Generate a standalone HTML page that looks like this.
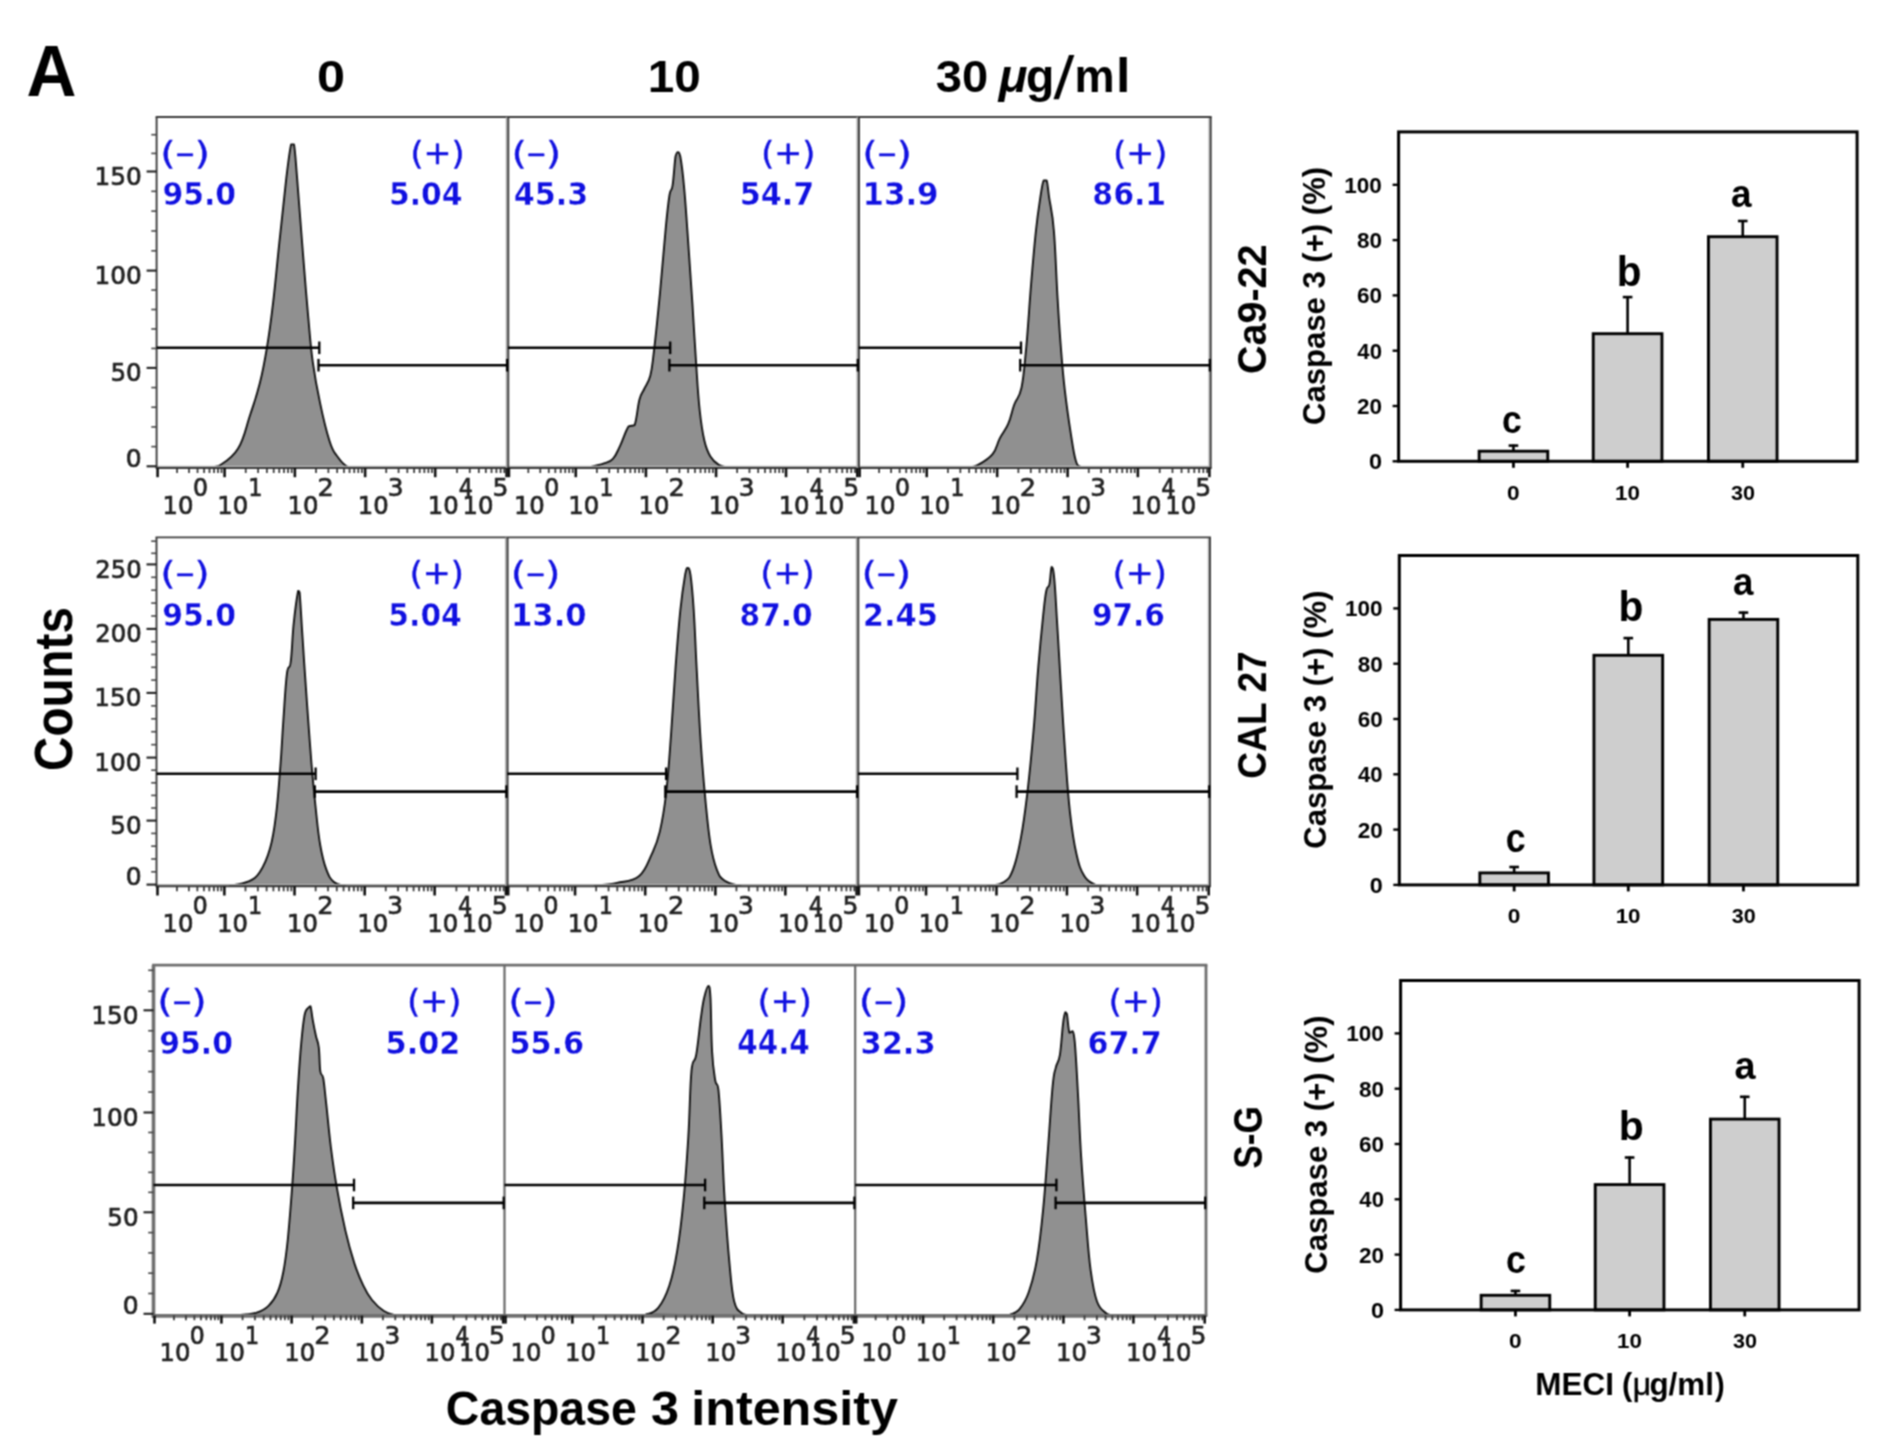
<!DOCTYPE html>
<html><head><meta charset="utf-8"><title>Figure A</title>
<style>html,body{margin:0;padding:0;background:#fff}svg{display:block}</style></head>
<body>
<svg width="1894" height="1454" viewBox="0 0 1894 1454">
<defs><filter id="soft" x="0" y="0" width="1894" height="1454" filterUnits="userSpaceOnUse" color-interpolation-filters="sRGB"><feConvolveMatrix order="3" kernelMatrix="1 2 1 2 4 2 1 2 1" divisor="16" edgeMode="duplicate" preserveAlpha="true"/></filter></defs>
<rect width="1894" height="1454" fill="#fff"/>
<g filter="url(#soft)">
<rect width="1894" height="1454" fill="#fff"/>
<path d="M208.1,467.8 C210.2,467.4 212.9,467.8 218.9,465.9 C224.9,462.0 231.9,458.7 238.1,448.5 C244.4,438.3 245.8,427.7 250.2,414.7 C254.5,401.7 256.4,396.9 259.8,383.3 C263.2,369.8 264.4,363.1 267.0,347.1 C269.7,331.2 270.6,324.0 273.0,303.7 C275.4,283.4 276.4,270.9 279.0,245.8 C281.7,220.7 283.9,198.5 286.3,178.2 C288.7,158.0 289.5,151.2 291.1,144.4 C292.6,144.4 292.8,144.4 294.0,144.4 C295.2,151.2 295.3,156.0 297.1,178.2 C298.9,200.4 301.0,228.4 303.1,255.4 C305.3,282.5 306.0,292.1 307.9,313.4 C309.9,334.6 310.3,343.8 312.7,361.6 C315.2,379.5 316.6,386.7 320.0,402.6 C323.3,418.6 326.2,430.6 329.6,441.3 C333.0,451.9 333.0,450.5 336.8,455.7 C340.7,460.9 342.6,464.9 348.8,467.3 C355.1,467.8 364.2,467.7 368.1,467.8Z" fill="#909090" stroke="#111" stroke-width="1.9" stroke-linejoin="round"/>
<path d="M588.9,467.3 C591.8,466.6 598.5,465.4 603.3,463.7 C608.1,462.0 609.6,462.5 612.9,458.9 C616.3,455.3 617.0,452.1 620.2,445.6 C623.3,439.1 625.7,430.5 628.6,426.4 C631.5,425.2 632.4,426.4 634.6,425.2 C636.8,419.8 637.5,407.1 639.4,399.8 C641.3,392.6 642.1,393.8 644.2,389.0 C646.4,384.2 648.3,383.2 650.3,375.8 C652.2,368.3 651.9,368.0 653.9,351.7 C655.8,335.3 657.5,318.9 659.9,293.8 C662.3,268.8 664.0,246.1 665.9,226.4 C667.8,206.6 668.2,203.2 669.5,195.0 C670.9,186.8 671.4,193.1 672.6,185.4 C673.8,177.7 674.5,163.1 675.5,156.5 C676.6,152.1 677.0,152.1 677.9,152.1 C678.9,152.1 679.1,152.1 680.3,156.5 C681.5,163.1 682.5,170.0 683.9,185.4 C685.4,200.8 685.9,210.0 687.6,233.6 C689.2,257.2 690.7,277.9 692.4,303.5 C694.1,329.0 694.5,340.1 696.0,361.3 C697.4,382.5 697.9,393.6 699.6,409.5 C701.3,425.4 702.2,431.4 704.4,440.8 C706.6,450.2 707.5,451.7 710.4,456.5 C713.3,461.3 715.2,462.6 718.8,464.9 C722.5,467.2 726.5,467.2 728.5,467.8Z" fill="#909090" stroke="#111" stroke-width="1.9" stroke-linejoin="round"/>
<path d="M968.5,467.8 C970.4,467.2 973.3,467.7 978.1,464.9 C982.9,462.2 988.2,459.4 992.6,454.1 C996.9,448.8 996.7,444.4 999.8,438.4 C1002.9,432.4 1005.3,430.7 1008.2,423.9 C1011.1,417.2 1011.6,411.9 1014.2,404.7 C1016.9,397.4 1019.0,399.4 1021.5,387.8 C1023.9,376.2 1024.3,367.5 1026.3,346.8 C1028.2,326.1 1029.2,307.3 1031.1,284.2 C1033.0,261.0 1034.0,249.0 1035.9,231.1 C1037.8,213.3 1039.2,205.1 1040.7,195.0 C1042.3,184.9 1042.4,183.4 1043.6,180.5 C1044.8,180.5 1045.6,180.5 1046.7,180.5 C1047.8,183.9 1047.7,187.3 1049.1,197.4 C1050.6,207.5 1052.3,210.9 1053.9,231.1 C1055.6,251.4 1056.1,274.5 1057.6,298.6 C1059.0,322.7 1059.7,333.3 1061.2,351.6 C1062.6,370.0 1062.9,373.8 1064.8,390.2 C1066.7,406.6 1068.6,419.6 1070.8,433.6 C1073.0,447.6 1073.7,453.4 1075.6,460.1 C1077.5,466.7 1077.8,465.3 1080.4,466.8 C1083.1,467.8 1087.2,467.6 1088.8,467.8Z" fill="#909090" stroke="#111" stroke-width="1.9" stroke-linejoin="round"/>
<line x1="156.60" y1="466.50" x2="1210.70" y2="466.50" stroke="#b4b4b4" stroke-width="1.6" stroke-linecap="butt"/>
<line x1="1209.10" y1="117.00" x2="1209.10" y2="468.00" stroke="#b4b4b4" stroke-width="1.4" stroke-linecap="butt"/>
<line x1="155.65" y1="117.00" x2="1211.65" y2="117.00" stroke="#3c3c3c" stroke-width="1.9" stroke-linecap="butt"/>
<line x1="155.65" y1="468.00" x2="1211.65" y2="468.00" stroke="#3c3c3c" stroke-width="1.9" stroke-linecap="butt"/>
<line x1="156.60" y1="117.00" x2="156.60" y2="468.00" stroke="#3c3c3c" stroke-width="1.9" stroke-linecap="butt"/>
<line x1="1210.70" y1="117.00" x2="1210.70" y2="468.00" stroke="#3c3c3c" stroke-width="1.9" stroke-linecap="butt"/>
<line x1="506.60" y1="117.00" x2="506.60" y2="468.00" stroke="#a8a8a8" stroke-width="1.6" stroke-linecap="butt"/>
<line x1="508.30" y1="117.00" x2="508.30" y2="468.00" stroke="#3c3c3c" stroke-width="1.9" stroke-linecap="butt"/>
<line x1="857.30" y1="117.00" x2="857.30" y2="468.00" stroke="#a8a8a8" stroke-width="1.6" stroke-linecap="butt"/>
<line x1="859.00" y1="117.00" x2="859.00" y2="468.00" stroke="#3c3c3c" stroke-width="1.9" stroke-linecap="butt"/>
<line x1="156.60" y1="347.80" x2="319.30" y2="347.80" stroke="#000" stroke-width="2.6" stroke-linecap="butt"/>
<line x1="319.30" y1="341.50" x2="319.30" y2="354.10" stroke="#000" stroke-width="2.3" stroke-linecap="butt"/>
<line x1="318.50" y1="365.20" x2="507.90" y2="365.20" stroke="#000" stroke-width="2.6" stroke-linecap="butt"/>
<line x1="318.50" y1="358.90" x2="318.50" y2="371.50" stroke="#000" stroke-width="2.3" stroke-linecap="butt"/>
<line x1="507.10" y1="358.90" x2="507.10" y2="371.50" stroke="#000" stroke-width="2.3" stroke-linecap="butt"/>
<line x1="507.90" y1="347.80" x2="670.20" y2="347.80" stroke="#000" stroke-width="2.6" stroke-linecap="butt"/>
<line x1="670.20" y1="341.50" x2="670.20" y2="354.10" stroke="#000" stroke-width="2.3" stroke-linecap="butt"/>
<line x1="669.40" y1="365.20" x2="858.60" y2="365.20" stroke="#000" stroke-width="2.6" stroke-linecap="butt"/>
<line x1="669.40" y1="358.90" x2="669.40" y2="371.50" stroke="#000" stroke-width="2.3" stroke-linecap="butt"/>
<line x1="857.80" y1="358.90" x2="857.80" y2="371.50" stroke="#000" stroke-width="2.3" stroke-linecap="butt"/>
<line x1="858.60" y1="347.80" x2="1021.00" y2="347.80" stroke="#000" stroke-width="2.6" stroke-linecap="butt"/>
<line x1="1021.00" y1="341.50" x2="1021.00" y2="354.10" stroke="#000" stroke-width="2.3" stroke-linecap="butt"/>
<line x1="1020.20" y1="365.20" x2="1210.70" y2="365.20" stroke="#000" stroke-width="2.6" stroke-linecap="butt"/>
<line x1="1020.20" y1="358.90" x2="1020.20" y2="371.50" stroke="#000" stroke-width="2.3" stroke-linecap="butt"/>
<line x1="1209.90" y1="358.90" x2="1209.90" y2="371.50" stroke="#000" stroke-width="2.3" stroke-linecap="butt"/>
<line x1="146.60" y1="466.30" x2="156.60" y2="466.30" stroke="#222" stroke-width="2.1" stroke-linecap="butt"/>
<line x1="146.60" y1="367.90" x2="156.60" y2="367.90" stroke="#222" stroke-width="2.1" stroke-linecap="butt"/>
<line x1="146.60" y1="270.60" x2="156.60" y2="270.60" stroke="#222" stroke-width="2.1" stroke-linecap="butt"/>
<line x1="146.60" y1="171.50" x2="156.60" y2="171.50" stroke="#222" stroke-width="2.1" stroke-linecap="butt"/>
<line x1="151.30" y1="446.62" x2="156.60" y2="446.62" stroke="#444" stroke-width="1.6" stroke-linecap="butt"/>
<line x1="151.30" y1="426.94" x2="156.60" y2="426.94" stroke="#444" stroke-width="1.6" stroke-linecap="butt"/>
<line x1="151.30" y1="407.26" x2="156.60" y2="407.26" stroke="#444" stroke-width="1.6" stroke-linecap="butt"/>
<line x1="151.30" y1="387.58" x2="156.60" y2="387.58" stroke="#444" stroke-width="1.6" stroke-linecap="butt"/>
<line x1="151.30" y1="348.44" x2="156.60" y2="348.44" stroke="#444" stroke-width="1.6" stroke-linecap="butt"/>
<line x1="151.30" y1="328.98" x2="156.60" y2="328.98" stroke="#444" stroke-width="1.6" stroke-linecap="butt"/>
<line x1="151.30" y1="309.52" x2="156.60" y2="309.52" stroke="#444" stroke-width="1.6" stroke-linecap="butt"/>
<line x1="151.30" y1="290.06" x2="156.60" y2="290.06" stroke="#444" stroke-width="1.6" stroke-linecap="butt"/>
<line x1="151.30" y1="250.78" x2="156.60" y2="250.78" stroke="#444" stroke-width="1.6" stroke-linecap="butt"/>
<line x1="151.30" y1="230.96" x2="156.60" y2="230.96" stroke="#444" stroke-width="1.6" stroke-linecap="butt"/>
<line x1="151.30" y1="211.14" x2="156.60" y2="211.14" stroke="#444" stroke-width="1.6" stroke-linecap="butt"/>
<line x1="151.30" y1="191.32" x2="156.60" y2="191.32" stroke="#444" stroke-width="1.6" stroke-linecap="butt"/>
<line x1="151.30" y1="153.40" x2="156.60" y2="153.40" stroke="#444" stroke-width="1.6" stroke-linecap="butt"/>
<line x1="151.30" y1="134.70" x2="156.60" y2="134.70" stroke="#444" stroke-width="1.6" stroke-linecap="butt"/>
<text transform="translate(125.85,466.80) scale(1.0182,1.0000)" font-family='"DejaVu Sans", sans-serif' font-weight="normal" stroke="#222" stroke-width="0.694" stroke-linejoin="round" font-size="24.5" fill="#222">0</text>
<text transform="translate(110.42,381.20) scale(1.0018,1.0000)" font-family='"DejaVu Sans", sans-serif' font-weight="normal" stroke="#222" stroke-width="0.699" stroke-linejoin="round" font-size="24.5" fill="#222">50</text>
<text transform="translate(94.44,283.90) scale(1.0118,1.0000)" font-family='"DejaVu Sans", sans-serif' font-weight="normal" stroke="#222" stroke-width="0.696" stroke-linejoin="round" font-size="24.5" fill="#222">100</text>
<text transform="translate(94.44,184.80) scale(1.0118,1.0000)" font-family='"DejaVu Sans", sans-serif' font-weight="normal" stroke="#222" stroke-width="0.696" stroke-linejoin="round" font-size="24.5" fill="#222">150</text>
<line x1="157.60" y1="468.00" x2="157.60" y2="477.20" stroke="#111" stroke-width="2.6" stroke-linecap="butt"/>
<line x1="177.06" y1="468.00" x2="177.06" y2="473.00" stroke="#333" stroke-width="1.7" stroke-linecap="butt"/>
<line x1="189.03" y1="468.00" x2="189.03" y2="473.00" stroke="#333" stroke-width="1.7" stroke-linecap="butt"/>
<line x1="197.53" y1="468.00" x2="197.53" y2="473.00" stroke="#333" stroke-width="1.7" stroke-linecap="butt"/>
<line x1="204.11" y1="468.00" x2="204.11" y2="473.00" stroke="#333" stroke-width="1.7" stroke-linecap="butt"/>
<line x1="209.50" y1="468.00" x2="209.50" y2="473.00" stroke="#333" stroke-width="1.7" stroke-linecap="butt"/>
<line x1="214.05" y1="468.00" x2="214.05" y2="473.00" stroke="#333" stroke-width="1.7" stroke-linecap="butt"/>
<line x1="217.99" y1="468.00" x2="217.99" y2="473.00" stroke="#333" stroke-width="1.7" stroke-linecap="butt"/>
<line x1="221.47" y1="468.00" x2="221.47" y2="473.00" stroke="#333" stroke-width="1.7" stroke-linecap="butt"/>
<line x1="224.58" y1="468.00" x2="224.58" y2="477.20" stroke="#111" stroke-width="2.6" stroke-linecap="butt"/>
<line x1="245.73" y1="468.00" x2="245.73" y2="473.00" stroke="#333" stroke-width="1.7" stroke-linecap="butt"/>
<line x1="258.11" y1="468.00" x2="258.11" y2="473.00" stroke="#333" stroke-width="1.7" stroke-linecap="butt"/>
<line x1="266.89" y1="468.00" x2="266.89" y2="473.00" stroke="#333" stroke-width="1.7" stroke-linecap="butt"/>
<line x1="273.70" y1="468.00" x2="273.70" y2="473.00" stroke="#333" stroke-width="1.7" stroke-linecap="butt"/>
<line x1="279.27" y1="468.00" x2="279.27" y2="473.00" stroke="#333" stroke-width="1.7" stroke-linecap="butt"/>
<line x1="283.97" y1="468.00" x2="283.97" y2="473.00" stroke="#333" stroke-width="1.7" stroke-linecap="butt"/>
<line x1="288.05" y1="468.00" x2="288.05" y2="473.00" stroke="#333" stroke-width="1.7" stroke-linecap="butt"/>
<line x1="291.64" y1="468.00" x2="291.64" y2="473.00" stroke="#333" stroke-width="1.7" stroke-linecap="butt"/>
<line x1="294.86" y1="468.00" x2="294.86" y2="477.20" stroke="#111" stroke-width="2.6" stroke-linecap="butt"/>
<line x1="316.01" y1="468.00" x2="316.01" y2="473.00" stroke="#333" stroke-width="1.7" stroke-linecap="butt"/>
<line x1="328.39" y1="468.00" x2="328.39" y2="473.00" stroke="#333" stroke-width="1.7" stroke-linecap="butt"/>
<line x1="337.17" y1="468.00" x2="337.17" y2="473.00" stroke="#333" stroke-width="1.7" stroke-linecap="butt"/>
<line x1="343.98" y1="468.00" x2="343.98" y2="473.00" stroke="#333" stroke-width="1.7" stroke-linecap="butt"/>
<line x1="349.55" y1="468.00" x2="349.55" y2="473.00" stroke="#333" stroke-width="1.7" stroke-linecap="butt"/>
<line x1="354.25" y1="468.00" x2="354.25" y2="473.00" stroke="#333" stroke-width="1.7" stroke-linecap="butt"/>
<line x1="358.33" y1="468.00" x2="358.33" y2="473.00" stroke="#333" stroke-width="1.7" stroke-linecap="butt"/>
<line x1="361.92" y1="468.00" x2="361.92" y2="473.00" stroke="#333" stroke-width="1.7" stroke-linecap="butt"/>
<line x1="365.14" y1="468.00" x2="365.14" y2="477.20" stroke="#111" stroke-width="2.6" stroke-linecap="butt"/>
<line x1="386.23" y1="468.00" x2="386.23" y2="473.00" stroke="#333" stroke-width="1.7" stroke-linecap="butt"/>
<line x1="398.57" y1="468.00" x2="398.57" y2="473.00" stroke="#333" stroke-width="1.7" stroke-linecap="butt"/>
<line x1="407.33" y1="468.00" x2="407.33" y2="473.00" stroke="#333" stroke-width="1.7" stroke-linecap="butt"/>
<line x1="414.12" y1="468.00" x2="414.12" y2="473.00" stroke="#333" stroke-width="1.7" stroke-linecap="butt"/>
<line x1="419.67" y1="468.00" x2="419.67" y2="473.00" stroke="#333" stroke-width="1.7" stroke-linecap="butt"/>
<line x1="424.36" y1="468.00" x2="424.36" y2="473.00" stroke="#333" stroke-width="1.7" stroke-linecap="butt"/>
<line x1="428.43" y1="468.00" x2="428.43" y2="473.00" stroke="#333" stroke-width="1.7" stroke-linecap="butt"/>
<line x1="432.01" y1="468.00" x2="432.01" y2="473.00" stroke="#333" stroke-width="1.7" stroke-linecap="butt"/>
<line x1="435.22" y1="468.00" x2="435.22" y2="477.20" stroke="#111" stroke-width="2.6" stroke-linecap="butt"/>
<line x1="457.01" y1="468.00" x2="457.01" y2="473.00" stroke="#333" stroke-width="1.7" stroke-linecap="butt"/>
<line x1="469.75" y1="468.00" x2="469.75" y2="473.00" stroke="#333" stroke-width="1.7" stroke-linecap="butt"/>
<line x1="478.80" y1="468.00" x2="478.80" y2="473.00" stroke="#333" stroke-width="1.7" stroke-linecap="butt"/>
<line x1="485.81" y1="468.00" x2="485.81" y2="473.00" stroke="#333" stroke-width="1.7" stroke-linecap="butt"/>
<line x1="491.54" y1="468.00" x2="491.54" y2="473.00" stroke="#333" stroke-width="1.7" stroke-linecap="butt"/>
<line x1="496.39" y1="468.00" x2="496.39" y2="473.00" stroke="#333" stroke-width="1.7" stroke-linecap="butt"/>
<line x1="500.59" y1="468.00" x2="500.59" y2="473.00" stroke="#333" stroke-width="1.7" stroke-linecap="butt"/>
<line x1="504.29" y1="468.00" x2="504.29" y2="473.00" stroke="#333" stroke-width="1.7" stroke-linecap="butt"/>
<line x1="506.60" y1="468.00" x2="506.60" y2="477.20" stroke="#111" stroke-width="2.6" stroke-linecap="butt"/>
<text transform="translate(162.59,513.70) scale(0.9926,1.0000)" font-family='"DejaVu Sans", sans-serif' font-weight="normal" stroke="#222" stroke-width="0.703" stroke-linejoin="round" font-size="24.5" fill="#222">10</text>
<text transform="translate(192.94,496.00) scale(0.9616,1.0000)" font-family='"DejaVu Sans", sans-serif' font-weight="normal" stroke="#222" stroke-width="0.714" stroke-linejoin="round" font-size="24.5" fill="#222">0</text>
<text transform="translate(217.17,513.70) scale(0.9926,1.0000)" font-family='"DejaVu Sans", sans-serif' font-weight="normal" stroke="#222" stroke-width="0.703" stroke-linejoin="round" font-size="24.5" fill="#222">10</text>
<text transform="translate(248.18,496.00) scale(0.9116,1.0000)" font-family='"DejaVu Sans", sans-serif' font-weight="normal" stroke="#222" stroke-width="0.733" stroke-linejoin="round" font-size="24.5" fill="#222">1</text>
<text transform="translate(287.45,513.70) scale(0.9926,1.0000)" font-family='"DejaVu Sans", sans-serif' font-weight="normal" stroke="#222" stroke-width="0.703" stroke-linejoin="round" font-size="24.5" fill="#222">10</text>
<text transform="translate(317.53,496.00) scale(1.0462,1.0000)" font-family='"DejaVu Sans", sans-serif' font-weight="normal" stroke="#222" stroke-width="0.684" stroke-linejoin="round" font-size="24.5" fill="#222">2</text>
<text transform="translate(357.73,513.70) scale(0.9926,1.0000)" font-family='"DejaVu Sans", sans-serif' font-weight="normal" stroke="#222" stroke-width="0.703" stroke-linejoin="round" font-size="24.5" fill="#222">10</text>
<text transform="translate(387.74,496.00) scale(1.0128,1.0000)" font-family='"DejaVu Sans", sans-serif' font-weight="normal" stroke="#222" stroke-width="0.696" stroke-linejoin="round" font-size="24.5" fill="#222">3</text>
<text transform="translate(427.81,513.70) scale(0.9926,1.0000)" font-family='"DejaVu Sans", sans-serif' font-weight="normal" stroke="#222" stroke-width="0.703" stroke-linejoin="round" font-size="24.5" fill="#222">10</text>
<text transform="translate(458.70,496.00) scale(0.9067,1.0000)" font-family='"DejaVu Sans", sans-serif' font-weight="normal" stroke="#222" stroke-width="0.735" stroke-linejoin="round" font-size="24.5" fill="#222">4</text>
<text transform="translate(462.49,513.70) scale(0.9926,1.0000)" font-family='"DejaVu Sans", sans-serif' font-weight="normal" stroke="#222" stroke-width="0.703" stroke-linejoin="round" font-size="24.5" fill="#222">10</text>
<text transform="translate(492.48,496.00) scale(1.0237,1.0000)" font-family='"DejaVu Sans", sans-serif' font-weight="normal" stroke="#222" stroke-width="0.692" stroke-linejoin="round" font-size="24.5" fill="#222">5</text>
<line x1="508.90" y1="468.00" x2="508.90" y2="477.20" stroke="#111" stroke-width="2.6" stroke-linecap="butt"/>
<line x1="528.33" y1="468.00" x2="528.33" y2="473.00" stroke="#333" stroke-width="1.7" stroke-linecap="butt"/>
<line x1="540.28" y1="468.00" x2="540.28" y2="473.00" stroke="#333" stroke-width="1.7" stroke-linecap="butt"/>
<line x1="548.76" y1="468.00" x2="548.76" y2="473.00" stroke="#333" stroke-width="1.7" stroke-linecap="butt"/>
<line x1="555.33" y1="468.00" x2="555.33" y2="473.00" stroke="#333" stroke-width="1.7" stroke-linecap="butt"/>
<line x1="560.71" y1="468.00" x2="560.71" y2="473.00" stroke="#333" stroke-width="1.7" stroke-linecap="butt"/>
<line x1="565.25" y1="468.00" x2="565.25" y2="473.00" stroke="#333" stroke-width="1.7" stroke-linecap="butt"/>
<line x1="569.18" y1="468.00" x2="569.18" y2="473.00" stroke="#333" stroke-width="1.7" stroke-linecap="butt"/>
<line x1="572.66" y1="468.00" x2="572.66" y2="473.00" stroke="#333" stroke-width="1.7" stroke-linecap="butt"/>
<line x1="575.76" y1="468.00" x2="575.76" y2="477.20" stroke="#111" stroke-width="2.6" stroke-linecap="butt"/>
<line x1="596.88" y1="468.00" x2="596.88" y2="473.00" stroke="#333" stroke-width="1.7" stroke-linecap="butt"/>
<line x1="609.24" y1="468.00" x2="609.24" y2="473.00" stroke="#333" stroke-width="1.7" stroke-linecap="butt"/>
<line x1="618.00" y1="468.00" x2="618.00" y2="473.00" stroke="#333" stroke-width="1.7" stroke-linecap="butt"/>
<line x1="624.80" y1="468.00" x2="624.80" y2="473.00" stroke="#333" stroke-width="1.7" stroke-linecap="butt"/>
<line x1="630.36" y1="468.00" x2="630.36" y2="473.00" stroke="#333" stroke-width="1.7" stroke-linecap="butt"/>
<line x1="635.05" y1="468.00" x2="635.05" y2="473.00" stroke="#333" stroke-width="1.7" stroke-linecap="butt"/>
<line x1="639.12" y1="468.00" x2="639.12" y2="473.00" stroke="#333" stroke-width="1.7" stroke-linecap="butt"/>
<line x1="642.71" y1="468.00" x2="642.71" y2="473.00" stroke="#333" stroke-width="1.7" stroke-linecap="butt"/>
<line x1="645.92" y1="468.00" x2="645.92" y2="477.20" stroke="#111" stroke-width="2.6" stroke-linecap="butt"/>
<line x1="667.04" y1="468.00" x2="667.04" y2="473.00" stroke="#333" stroke-width="1.7" stroke-linecap="butt"/>
<line x1="679.40" y1="468.00" x2="679.40" y2="473.00" stroke="#333" stroke-width="1.7" stroke-linecap="butt"/>
<line x1="688.16" y1="468.00" x2="688.16" y2="473.00" stroke="#333" stroke-width="1.7" stroke-linecap="butt"/>
<line x1="694.96" y1="468.00" x2="694.96" y2="473.00" stroke="#333" stroke-width="1.7" stroke-linecap="butt"/>
<line x1="700.52" y1="468.00" x2="700.52" y2="473.00" stroke="#333" stroke-width="1.7" stroke-linecap="butt"/>
<line x1="705.21" y1="468.00" x2="705.21" y2="473.00" stroke="#333" stroke-width="1.7" stroke-linecap="butt"/>
<line x1="709.28" y1="468.00" x2="709.28" y2="473.00" stroke="#333" stroke-width="1.7" stroke-linecap="butt"/>
<line x1="712.87" y1="468.00" x2="712.87" y2="473.00" stroke="#333" stroke-width="1.7" stroke-linecap="butt"/>
<line x1="716.08" y1="468.00" x2="716.08" y2="477.20" stroke="#111" stroke-width="2.6" stroke-linecap="butt"/>
<line x1="737.14" y1="468.00" x2="737.14" y2="473.00" stroke="#333" stroke-width="1.7" stroke-linecap="butt"/>
<line x1="749.46" y1="468.00" x2="749.46" y2="473.00" stroke="#333" stroke-width="1.7" stroke-linecap="butt"/>
<line x1="758.20" y1="468.00" x2="758.20" y2="473.00" stroke="#333" stroke-width="1.7" stroke-linecap="butt"/>
<line x1="764.98" y1="468.00" x2="764.98" y2="473.00" stroke="#333" stroke-width="1.7" stroke-linecap="butt"/>
<line x1="770.52" y1="468.00" x2="770.52" y2="473.00" stroke="#333" stroke-width="1.7" stroke-linecap="butt"/>
<line x1="775.20" y1="468.00" x2="775.20" y2="473.00" stroke="#333" stroke-width="1.7" stroke-linecap="butt"/>
<line x1="779.26" y1="468.00" x2="779.26" y2="473.00" stroke="#333" stroke-width="1.7" stroke-linecap="butt"/>
<line x1="782.84" y1="468.00" x2="782.84" y2="473.00" stroke="#333" stroke-width="1.7" stroke-linecap="butt"/>
<line x1="786.04" y1="468.00" x2="786.04" y2="477.20" stroke="#111" stroke-width="2.6" stroke-linecap="butt"/>
<line x1="807.79" y1="468.00" x2="807.79" y2="473.00" stroke="#333" stroke-width="1.7" stroke-linecap="butt"/>
<line x1="820.52" y1="468.00" x2="820.52" y2="473.00" stroke="#333" stroke-width="1.7" stroke-linecap="butt"/>
<line x1="829.55" y1="468.00" x2="829.55" y2="473.00" stroke="#333" stroke-width="1.7" stroke-linecap="butt"/>
<line x1="836.55" y1="468.00" x2="836.55" y2="473.00" stroke="#333" stroke-width="1.7" stroke-linecap="butt"/>
<line x1="842.27" y1="468.00" x2="842.27" y2="473.00" stroke="#333" stroke-width="1.7" stroke-linecap="butt"/>
<line x1="847.11" y1="468.00" x2="847.11" y2="473.00" stroke="#333" stroke-width="1.7" stroke-linecap="butt"/>
<line x1="851.30" y1="468.00" x2="851.30" y2="473.00" stroke="#333" stroke-width="1.7" stroke-linecap="butt"/>
<line x1="854.99" y1="468.00" x2="854.99" y2="473.00" stroke="#333" stroke-width="1.7" stroke-linecap="butt"/>
<line x1="857.30" y1="468.00" x2="857.30" y2="477.20" stroke="#111" stroke-width="2.6" stroke-linecap="butt"/>
<text transform="translate(513.89,513.70) scale(0.9926,1.0000)" font-family='"DejaVu Sans", sans-serif' font-weight="normal" stroke="#222" stroke-width="0.703" stroke-linejoin="round" font-size="24.5" fill="#222">10</text>
<text transform="translate(544.24,496.00) scale(0.9616,1.0000)" font-family='"DejaVu Sans", sans-serif' font-weight="normal" stroke="#222" stroke-width="0.714" stroke-linejoin="round" font-size="24.5" fill="#222">0</text>
<text transform="translate(568.36,513.70) scale(0.9926,1.0000)" font-family='"DejaVu Sans", sans-serif' font-weight="normal" stroke="#222" stroke-width="0.703" stroke-linejoin="round" font-size="24.5" fill="#222">10</text>
<text transform="translate(599.37,496.00) scale(0.9116,1.0000)" font-family='"DejaVu Sans", sans-serif' font-weight="normal" stroke="#222" stroke-width="0.733" stroke-linejoin="round" font-size="24.5" fill="#222">1</text>
<text transform="translate(638.52,513.70) scale(0.9926,1.0000)" font-family='"DejaVu Sans", sans-serif' font-weight="normal" stroke="#222" stroke-width="0.703" stroke-linejoin="round" font-size="24.5" fill="#222">10</text>
<text transform="translate(668.59,496.00) scale(1.0462,1.0000)" font-family='"DejaVu Sans", sans-serif' font-weight="normal" stroke="#222" stroke-width="0.684" stroke-linejoin="round" font-size="24.5" fill="#222">2</text>
<text transform="translate(708.68,513.70) scale(0.9926,1.0000)" font-family='"DejaVu Sans", sans-serif' font-weight="normal" stroke="#222" stroke-width="0.703" stroke-linejoin="round" font-size="24.5" fill="#222">10</text>
<text transform="translate(738.68,496.00) scale(1.0128,1.0000)" font-family='"DejaVu Sans", sans-serif' font-weight="normal" stroke="#222" stroke-width="0.696" stroke-linejoin="round" font-size="24.5" fill="#222">3</text>
<text transform="translate(778.64,513.70) scale(0.9926,1.0000)" font-family='"DejaVu Sans", sans-serif' font-weight="normal" stroke="#222" stroke-width="0.703" stroke-linejoin="round" font-size="24.5" fill="#222">10</text>
<text transform="translate(809.52,496.00) scale(0.9067,1.0000)" font-family='"DejaVu Sans", sans-serif' font-weight="normal" stroke="#222" stroke-width="0.735" stroke-linejoin="round" font-size="24.5" fill="#222">4</text>
<text transform="translate(813.19,513.70) scale(0.9926,1.0000)" font-family='"DejaVu Sans", sans-serif' font-weight="normal" stroke="#222" stroke-width="0.703" stroke-linejoin="round" font-size="24.5" fill="#222">10</text>
<text transform="translate(843.18,496.00) scale(1.0237,1.0000)" font-family='"DejaVu Sans", sans-serif' font-weight="normal" stroke="#222" stroke-width="0.692" stroke-linejoin="round" font-size="24.5" fill="#222">5</text>
<line x1="859.60" y1="468.00" x2="859.60" y2="477.20" stroke="#111" stroke-width="2.6" stroke-linecap="butt"/>
<line x1="879.11" y1="468.00" x2="879.11" y2="473.00" stroke="#333" stroke-width="1.7" stroke-linecap="butt"/>
<line x1="891.11" y1="468.00" x2="891.11" y2="473.00" stroke="#333" stroke-width="1.7" stroke-linecap="butt"/>
<line x1="899.62" y1="468.00" x2="899.62" y2="473.00" stroke="#333" stroke-width="1.7" stroke-linecap="butt"/>
<line x1="906.22" y1="468.00" x2="906.22" y2="473.00" stroke="#333" stroke-width="1.7" stroke-linecap="butt"/>
<line x1="911.62" y1="468.00" x2="911.62" y2="473.00" stroke="#333" stroke-width="1.7" stroke-linecap="butt"/>
<line x1="916.18" y1="468.00" x2="916.18" y2="473.00" stroke="#333" stroke-width="1.7" stroke-linecap="butt"/>
<line x1="920.13" y1="468.00" x2="920.13" y2="473.00" stroke="#333" stroke-width="1.7" stroke-linecap="butt"/>
<line x1="923.61" y1="468.00" x2="923.61" y2="473.00" stroke="#333" stroke-width="1.7" stroke-linecap="butt"/>
<line x1="926.73" y1="468.00" x2="926.73" y2="477.20" stroke="#111" stroke-width="2.6" stroke-linecap="butt"/>
<line x1="947.94" y1="468.00" x2="947.94" y2="473.00" stroke="#333" stroke-width="1.7" stroke-linecap="butt"/>
<line x1="960.34" y1="468.00" x2="960.34" y2="473.00" stroke="#333" stroke-width="1.7" stroke-linecap="butt"/>
<line x1="969.14" y1="468.00" x2="969.14" y2="473.00" stroke="#333" stroke-width="1.7" stroke-linecap="butt"/>
<line x1="975.97" y1="468.00" x2="975.97" y2="473.00" stroke="#333" stroke-width="1.7" stroke-linecap="butt"/>
<line x1="981.55" y1="468.00" x2="981.55" y2="473.00" stroke="#333" stroke-width="1.7" stroke-linecap="butt"/>
<line x1="986.26" y1="468.00" x2="986.26" y2="473.00" stroke="#333" stroke-width="1.7" stroke-linecap="butt"/>
<line x1="990.35" y1="468.00" x2="990.35" y2="473.00" stroke="#333" stroke-width="1.7" stroke-linecap="butt"/>
<line x1="993.95" y1="468.00" x2="993.95" y2="473.00" stroke="#333" stroke-width="1.7" stroke-linecap="butt"/>
<line x1="997.17" y1="468.00" x2="997.17" y2="477.20" stroke="#111" stroke-width="2.6" stroke-linecap="butt"/>
<line x1="1018.38" y1="468.00" x2="1018.38" y2="473.00" stroke="#333" stroke-width="1.7" stroke-linecap="butt"/>
<line x1="1030.78" y1="468.00" x2="1030.78" y2="473.00" stroke="#333" stroke-width="1.7" stroke-linecap="butt"/>
<line x1="1039.58" y1="468.00" x2="1039.58" y2="473.00" stroke="#333" stroke-width="1.7" stroke-linecap="butt"/>
<line x1="1046.41" y1="468.00" x2="1046.41" y2="473.00" stroke="#333" stroke-width="1.7" stroke-linecap="butt"/>
<line x1="1051.99" y1="468.00" x2="1051.99" y2="473.00" stroke="#333" stroke-width="1.7" stroke-linecap="butt"/>
<line x1="1056.70" y1="468.00" x2="1056.70" y2="473.00" stroke="#333" stroke-width="1.7" stroke-linecap="butt"/>
<line x1="1060.79" y1="468.00" x2="1060.79" y2="473.00" stroke="#333" stroke-width="1.7" stroke-linecap="butt"/>
<line x1="1064.39" y1="468.00" x2="1064.39" y2="473.00" stroke="#333" stroke-width="1.7" stroke-linecap="butt"/>
<line x1="1067.61" y1="468.00" x2="1067.61" y2="477.20" stroke="#111" stroke-width="2.6" stroke-linecap="butt"/>
<line x1="1088.76" y1="468.00" x2="1088.76" y2="473.00" stroke="#333" stroke-width="1.7" stroke-linecap="butt"/>
<line x1="1101.13" y1="468.00" x2="1101.13" y2="473.00" stroke="#333" stroke-width="1.7" stroke-linecap="butt"/>
<line x1="1109.90" y1="468.00" x2="1109.90" y2="473.00" stroke="#333" stroke-width="1.7" stroke-linecap="butt"/>
<line x1="1116.71" y1="468.00" x2="1116.71" y2="473.00" stroke="#333" stroke-width="1.7" stroke-linecap="butt"/>
<line x1="1122.27" y1="468.00" x2="1122.27" y2="473.00" stroke="#333" stroke-width="1.7" stroke-linecap="butt"/>
<line x1="1126.97" y1="468.00" x2="1126.97" y2="473.00" stroke="#333" stroke-width="1.7" stroke-linecap="butt"/>
<line x1="1131.04" y1="468.00" x2="1131.04" y2="473.00" stroke="#333" stroke-width="1.7" stroke-linecap="butt"/>
<line x1="1134.64" y1="468.00" x2="1134.64" y2="473.00" stroke="#333" stroke-width="1.7" stroke-linecap="butt"/>
<line x1="1137.85" y1="468.00" x2="1137.85" y2="477.20" stroke="#111" stroke-width="2.6" stroke-linecap="butt"/>
<line x1="1159.69" y1="468.00" x2="1159.69" y2="473.00" stroke="#333" stroke-width="1.7" stroke-linecap="butt"/>
<line x1="1172.47" y1="468.00" x2="1172.47" y2="473.00" stroke="#333" stroke-width="1.7" stroke-linecap="butt"/>
<line x1="1181.53" y1="468.00" x2="1181.53" y2="473.00" stroke="#333" stroke-width="1.7" stroke-linecap="butt"/>
<line x1="1188.56" y1="468.00" x2="1188.56" y2="473.00" stroke="#333" stroke-width="1.7" stroke-linecap="butt"/>
<line x1="1194.30" y1="468.00" x2="1194.30" y2="473.00" stroke="#333" stroke-width="1.7" stroke-linecap="butt"/>
<line x1="1199.16" y1="468.00" x2="1199.16" y2="473.00" stroke="#333" stroke-width="1.7" stroke-linecap="butt"/>
<line x1="1203.37" y1="468.00" x2="1203.37" y2="473.00" stroke="#333" stroke-width="1.7" stroke-linecap="butt"/>
<line x1="1207.08" y1="468.00" x2="1207.08" y2="473.00" stroke="#333" stroke-width="1.7" stroke-linecap="butt"/>
<line x1="1209.40" y1="468.00" x2="1209.40" y2="477.20" stroke="#111" stroke-width="2.6" stroke-linecap="butt"/>
<text transform="translate(864.59,513.70) scale(0.9926,1.0000)" font-family='"DejaVu Sans", sans-serif' font-weight="normal" stroke="#222" stroke-width="0.703" stroke-linejoin="round" font-size="24.5" fill="#222">10</text>
<text transform="translate(894.94,496.00) scale(0.9616,1.0000)" font-family='"DejaVu Sans", sans-serif' font-weight="normal" stroke="#222" stroke-width="0.714" stroke-linejoin="round" font-size="24.5" fill="#222">0</text>
<text transform="translate(919.33,513.70) scale(0.9926,1.0000)" font-family='"DejaVu Sans", sans-serif' font-weight="normal" stroke="#222" stroke-width="0.703" stroke-linejoin="round" font-size="24.5" fill="#222">10</text>
<text transform="translate(950.34,496.00) scale(0.9116,1.0000)" font-family='"DejaVu Sans", sans-serif' font-weight="normal" stroke="#222" stroke-width="0.733" stroke-linejoin="round" font-size="24.5" fill="#222">1</text>
<text transform="translate(989.77,513.70) scale(0.9926,1.0000)" font-family='"DejaVu Sans", sans-serif' font-weight="normal" stroke="#222" stroke-width="0.703" stroke-linejoin="round" font-size="24.5" fill="#222">10</text>
<text transform="translate(1019.84,496.00) scale(1.0462,1.0000)" font-family='"DejaVu Sans", sans-serif' font-weight="normal" stroke="#222" stroke-width="0.684" stroke-linejoin="round" font-size="24.5" fill="#222">2</text>
<text transform="translate(1060.21,513.70) scale(0.9926,1.0000)" font-family='"DejaVu Sans", sans-serif' font-weight="normal" stroke="#222" stroke-width="0.703" stroke-linejoin="round" font-size="24.5" fill="#222">10</text>
<text transform="translate(1090.21,496.00) scale(1.0128,1.0000)" font-family='"DejaVu Sans", sans-serif' font-weight="normal" stroke="#222" stroke-width="0.696" stroke-linejoin="round" font-size="24.5" fill="#222">3</text>
<text transform="translate(1130.45,513.70) scale(0.9926,1.0000)" font-family='"DejaVu Sans", sans-serif' font-weight="normal" stroke="#222" stroke-width="0.703" stroke-linejoin="round" font-size="24.5" fill="#222">10</text>
<text transform="translate(1161.33,496.00) scale(0.9067,1.0000)" font-family='"DejaVu Sans", sans-serif' font-weight="normal" stroke="#222" stroke-width="0.735" stroke-linejoin="round" font-size="24.5" fill="#222">4</text>
<text transform="translate(1165.29,513.70) scale(0.9926,1.0000)" font-family='"DejaVu Sans", sans-serif' font-weight="normal" stroke="#222" stroke-width="0.703" stroke-linejoin="round" font-size="24.5" fill="#222">10</text>
<text transform="translate(1195.28,496.00) scale(1.0237,1.0000)" font-family='"DejaVu Sans", sans-serif' font-weight="normal" stroke="#222" stroke-width="0.692" stroke-linejoin="round" font-size="24.5" fill="#222">5</text>
<text transform="translate(160.50,163.59) scale(1.2000,0.9895)" font-family='"DejaVu Sans", sans-serif' font-weight="normal" stroke="#1010e0" stroke-width="0.459" stroke-linejoin="round" font-size="32" fill="#1010e0">(–)</text>
<text transform="translate(410.53,163.59) scale(1.0443,0.9895)" font-family='"DejaVu Sans", sans-serif' font-weight="normal" stroke="#1010e0" stroke-width="0.492" stroke-linejoin="round" font-size="32" fill="#1010e0">(+)</text>
<text transform="translate(162.39,205.31) scale(1.0060,0.9720)" font-family='"DejaVu Sans Condensed", "DejaVu Sans", sans-serif' font-weight="bold" stroke="#fff" stroke-width="0.405" stroke-linejoin="round" font-size="33" fill="#1010e0">95.0</text>
<text transform="translate(389.04,205.31) scale(1.0036,0.9720)" font-family='"DejaVu Sans Condensed", "DejaVu Sans", sans-serif' font-weight="bold" stroke="#fff" stroke-width="0.405" stroke-linejoin="round" font-size="33" fill="#1010e0">5.04</text>
<text transform="translate(511.80,163.59) scale(1.2000,0.9895)" font-family='"DejaVu Sans", sans-serif' font-weight="normal" stroke="#1010e0" stroke-width="0.459" stroke-linejoin="round" font-size="32" fill="#1010e0">(–)</text>
<text transform="translate(761.23,163.59) scale(1.0443,0.9895)" font-family='"DejaVu Sans", sans-serif' font-weight="normal" stroke="#1010e0" stroke-width="0.492" stroke-linejoin="round" font-size="32" fill="#1010e0">(+)</text>
<text transform="translate(513.80,205.31) scale(1.0169,0.9720)" font-family='"DejaVu Sans Condensed", "DejaVu Sans", sans-serif' font-weight="bold" stroke="#fff" stroke-width="0.402" stroke-linejoin="round" font-size="33" fill="#1010e0">45.3</text>
<text transform="translate(739.71,205.31) scale(1.0182,0.9868)" font-family='"DejaVu Sans Condensed", "DejaVu Sans", sans-serif' font-weight="bold" stroke="#fff" stroke-width="0.399" stroke-linejoin="round" font-size="33" fill="#1010e0">54.7</text>
<text transform="translate(862.50,163.59) scale(1.2000,0.9895)" font-family='"DejaVu Sans", sans-serif' font-weight="normal" stroke="#1010e0" stroke-width="0.459" stroke-linejoin="round" font-size="32" fill="#1010e0">(–)</text>
<text transform="translate(1113.33,163.59) scale(1.0443,0.9895)" font-family='"DejaVu Sans", sans-serif' font-weight="normal" stroke="#1010e0" stroke-width="0.492" stroke-linejoin="round" font-size="32" fill="#1010e0">(+)</text>
<text transform="translate(862.39,205.31) scale(1.0412,0.9720)" font-family='"DejaVu Sans Condensed", "DejaVu Sans", sans-serif' font-weight="bold" stroke="#fff" stroke-width="0.398" stroke-linejoin="round" font-size="33" fill="#1010e0">13.9</text>
<text transform="translate(1092.34,205.31) scale(1.0072,0.9720)" font-family='"DejaVu Sans Condensed", "DejaVu Sans", sans-serif' font-weight="bold" stroke="#fff" stroke-width="0.404" stroke-linejoin="round" font-size="33" fill="#1010e0">86.1</text>
<path d="M230.1,885.5 C233.7,884.7 241.9,884.3 247.9,881.7 C253.8,879.0 255.2,878.8 259.7,872.2 C264.1,865.6 266.8,859.8 270.0,848.5 C273.3,837.3 273.9,832.5 275.9,815.9 C278.0,799.4 278.9,784.6 280.4,765.6 C281.9,746.7 282.0,739.6 283.3,721.2 C284.6,702.9 285.4,685.7 286.9,673.9 C288.4,662.0 289.4,672.1 290.7,662.0 C292.1,651.9 292.2,637.7 293.7,623.5 C295.2,609.3 296.9,597.2 298.1,591.0 C299.3,591.0 298.7,591.0 299.6,592.4 C300.5,601.9 301.1,616.1 302.6,638.3 C304.0,660.5 305.2,678.6 307.0,703.5 C308.8,728.3 309.7,741.3 311.4,762.7 C313.2,784.0 314.1,793.4 315.9,810.0 C317.6,826.6 318.2,833.7 320.3,845.5 C322.4,857.4 323.5,862.0 326.2,869.2 C328.9,876.4 329.8,878.3 333.6,881.7 C337.4,885.0 343.1,885.2 345.4,886.1Z" fill="#909090" stroke="#111" stroke-width="1.9" stroke-linejoin="round"/>
<path d="M594.8,885.5 C599.3,885.0 608.2,884.8 617.0,882.9 C625.9,881.0 632.2,881.8 639.2,876.0 C646.2,870.1 647.7,862.6 651.9,853.8 C656.0,844.9 656.9,843.6 659.8,831.6 C662.6,819.5 663.9,812.6 666.1,793.5 C668.3,774.5 669.0,761.9 670.9,736.5 C672.8,711.1 673.7,692.1 675.6,666.8 C677.5,641.4 678.5,628.1 680.4,609.7 C682.3,591.3 683.7,583.2 685.1,574.9 C686.6,567.9 686.6,567.9 687.7,567.9 C688.7,567.9 689.3,567.9 690.5,574.9 C691.7,583.2 692.4,590.1 693.7,609.7 C695.0,629.4 695.4,645.8 696.9,673.1 C698.3,700.4 699.2,720.0 701.0,746.0 C702.7,772.0 703.8,783.4 705.7,803.1 C707.6,822.7 708.3,830.9 710.5,844.3 C712.7,857.6 714.0,862.3 716.8,869.6 C719.7,876.9 720.0,877.4 724.7,880.7 C729.5,884.0 737.4,885.0 740.6,886.1Z" fill="#909090" stroke="#111" stroke-width="1.9" stroke-linejoin="round"/>
<path d="M987.7,886.1 C990.8,885.3 998.4,885.6 1003.5,882.3 C1008.6,879.0 1009.5,878.5 1013.0,869.6 C1016.5,860.7 1018.1,853.1 1020.9,837.9 C1023.8,822.7 1024.7,815.1 1027.3,793.5 C1029.8,772.0 1031.4,755.5 1033.6,730.2 C1035.8,704.8 1036.4,689.6 1038.3,666.8 C1040.2,643.9 1041.5,631.3 1043.1,616.1 C1044.7,600.8 1045.0,597.0 1046.3,590.7 C1047.5,584.4 1048.4,589.1 1049.4,584.4 C1050.5,579.6 1050.7,568.2 1051.7,566.9 C1052.6,566.9 1053.2,568.2 1054.2,578.0 C1055.2,587.8 1055.5,595.8 1056.7,616.1 C1058.0,636.3 1058.8,651.6 1060.5,679.4 C1062.2,707.3 1063.4,728.9 1065.3,755.5 C1067.2,782.1 1067.8,792.9 1070.0,812.6 C1072.2,832.2 1073.5,841.1 1076.4,853.8 C1079.2,866.4 1080.5,869.7 1084.3,876.0 C1088.1,882.2 1091.3,882.8 1095.4,884.8 C1099.5,886.1 1103.0,885.8 1104.9,886.1Z" fill="#909090" stroke="#111" stroke-width="1.9" stroke-linejoin="round"/>
<line x1="156.50" y1="884.80" x2="1210.00" y2="884.80" stroke="#b4b4b4" stroke-width="1.6" stroke-linecap="butt"/>
<line x1="1208.40" y1="537.40" x2="1208.40" y2="886.30" stroke="#b4b4b4" stroke-width="1.4" stroke-linecap="butt"/>
<line x1="155.55" y1="537.40" x2="1210.95" y2="537.40" stroke="#3c3c3c" stroke-width="1.9" stroke-linecap="butt"/>
<line x1="155.55" y1="886.30" x2="1210.95" y2="886.30" stroke="#3c3c3c" stroke-width="1.9" stroke-linecap="butt"/>
<line x1="156.50" y1="537.40" x2="156.50" y2="886.30" stroke="#3c3c3c" stroke-width="1.9" stroke-linecap="butt"/>
<line x1="1210.00" y1="537.40" x2="1210.00" y2="886.30" stroke="#3c3c3c" stroke-width="1.9" stroke-linecap="butt"/>
<line x1="505.90" y1="537.40" x2="505.90" y2="886.30" stroke="#a8a8a8" stroke-width="1.6" stroke-linecap="butt"/>
<line x1="507.60" y1="537.40" x2="507.60" y2="886.30" stroke="#3c3c3c" stroke-width="1.9" stroke-linecap="butt"/>
<line x1="856.60" y1="537.40" x2="856.60" y2="886.30" stroke="#a8a8a8" stroke-width="1.6" stroke-linecap="butt"/>
<line x1="858.30" y1="537.40" x2="858.30" y2="886.30" stroke="#3c3c3c" stroke-width="1.9" stroke-linecap="butt"/>
<line x1="156.50" y1="773.80" x2="315.60" y2="773.80" stroke="#000" stroke-width="2.6" stroke-linecap="butt"/>
<line x1="315.60" y1="767.50" x2="315.60" y2="780.10" stroke="#000" stroke-width="2.3" stroke-linecap="butt"/>
<line x1="314.80" y1="791.60" x2="507.20" y2="791.60" stroke="#000" stroke-width="2.6" stroke-linecap="butt"/>
<line x1="314.80" y1="785.30" x2="314.80" y2="797.90" stroke="#000" stroke-width="2.3" stroke-linecap="butt"/>
<line x1="506.40" y1="785.30" x2="506.40" y2="797.90" stroke="#000" stroke-width="2.3" stroke-linecap="butt"/>
<line x1="507.20" y1="773.80" x2="666.10" y2="773.80" stroke="#000" stroke-width="2.6" stroke-linecap="butt"/>
<line x1="666.10" y1="767.50" x2="666.10" y2="780.10" stroke="#000" stroke-width="2.3" stroke-linecap="butt"/>
<line x1="665.30" y1="791.60" x2="857.90" y2="791.60" stroke="#000" stroke-width="2.6" stroke-linecap="butt"/>
<line x1="665.30" y1="785.30" x2="665.30" y2="797.90" stroke="#000" stroke-width="2.3" stroke-linecap="butt"/>
<line x1="857.10" y1="785.30" x2="857.10" y2="797.90" stroke="#000" stroke-width="2.3" stroke-linecap="butt"/>
<line x1="857.90" y1="773.80" x2="1017.40" y2="773.80" stroke="#000" stroke-width="2.6" stroke-linecap="butt"/>
<line x1="1017.40" y1="767.50" x2="1017.40" y2="780.10" stroke="#000" stroke-width="2.3" stroke-linecap="butt"/>
<line x1="1016.60" y1="791.60" x2="1210.00" y2="791.60" stroke="#000" stroke-width="2.6" stroke-linecap="butt"/>
<line x1="1016.60" y1="785.30" x2="1016.60" y2="797.90" stroke="#000" stroke-width="2.3" stroke-linecap="butt"/>
<line x1="1209.20" y1="785.30" x2="1209.20" y2="797.90" stroke="#000" stroke-width="2.3" stroke-linecap="butt"/>
<line x1="146.50" y1="884.60" x2="156.50" y2="884.60" stroke="#222" stroke-width="2.1" stroke-linecap="butt"/>
<line x1="146.50" y1="820.60" x2="156.50" y2="820.60" stroke="#222" stroke-width="2.1" stroke-linecap="butt"/>
<line x1="146.50" y1="757.60" x2="156.50" y2="757.60" stroke="#222" stroke-width="2.1" stroke-linecap="butt"/>
<line x1="146.50" y1="692.90" x2="156.50" y2="692.90" stroke="#222" stroke-width="2.1" stroke-linecap="butt"/>
<line x1="146.50" y1="628.90" x2="156.50" y2="628.90" stroke="#222" stroke-width="2.1" stroke-linecap="butt"/>
<line x1="146.50" y1="564.40" x2="156.50" y2="564.40" stroke="#222" stroke-width="2.1" stroke-linecap="butt"/>
<line x1="151.20" y1="871.80" x2="156.50" y2="871.80" stroke="#444" stroke-width="1.6" stroke-linecap="butt"/>
<line x1="151.20" y1="859.00" x2="156.50" y2="859.00" stroke="#444" stroke-width="1.6" stroke-linecap="butt"/>
<line x1="151.20" y1="846.20" x2="156.50" y2="846.20" stroke="#444" stroke-width="1.6" stroke-linecap="butt"/>
<line x1="151.20" y1="833.40" x2="156.50" y2="833.40" stroke="#444" stroke-width="1.6" stroke-linecap="butt"/>
<line x1="151.20" y1="808.00" x2="156.50" y2="808.00" stroke="#444" stroke-width="1.6" stroke-linecap="butt"/>
<line x1="151.20" y1="795.40" x2="156.50" y2="795.40" stroke="#444" stroke-width="1.6" stroke-linecap="butt"/>
<line x1="151.20" y1="782.80" x2="156.50" y2="782.80" stroke="#444" stroke-width="1.6" stroke-linecap="butt"/>
<line x1="151.20" y1="770.20" x2="156.50" y2="770.20" stroke="#444" stroke-width="1.6" stroke-linecap="butt"/>
<line x1="151.20" y1="744.66" x2="156.50" y2="744.66" stroke="#444" stroke-width="1.6" stroke-linecap="butt"/>
<line x1="151.20" y1="731.72" x2="156.50" y2="731.72" stroke="#444" stroke-width="1.6" stroke-linecap="butt"/>
<line x1="151.20" y1="718.78" x2="156.50" y2="718.78" stroke="#444" stroke-width="1.6" stroke-linecap="butt"/>
<line x1="151.20" y1="705.84" x2="156.50" y2="705.84" stroke="#444" stroke-width="1.6" stroke-linecap="butt"/>
<line x1="151.20" y1="680.10" x2="156.50" y2="680.10" stroke="#444" stroke-width="1.6" stroke-linecap="butt"/>
<line x1="151.20" y1="667.30" x2="156.50" y2="667.30" stroke="#444" stroke-width="1.6" stroke-linecap="butt"/>
<line x1="151.20" y1="654.50" x2="156.50" y2="654.50" stroke="#444" stroke-width="1.6" stroke-linecap="butt"/>
<line x1="151.20" y1="641.70" x2="156.50" y2="641.70" stroke="#444" stroke-width="1.6" stroke-linecap="butt"/>
<line x1="151.20" y1="616.00" x2="156.50" y2="616.00" stroke="#444" stroke-width="1.6" stroke-linecap="butt"/>
<line x1="151.20" y1="603.10" x2="156.50" y2="603.10" stroke="#444" stroke-width="1.6" stroke-linecap="butt"/>
<line x1="151.20" y1="590.20" x2="156.50" y2="590.20" stroke="#444" stroke-width="1.6" stroke-linecap="butt"/>
<line x1="151.20" y1="577.30" x2="156.50" y2="577.30" stroke="#444" stroke-width="1.6" stroke-linecap="butt"/>
<line x1="151.20" y1="553.30" x2="156.50" y2="553.30" stroke="#444" stroke-width="1.6" stroke-linecap="butt"/>
<line x1="151.20" y1="541.20" x2="156.50" y2="541.20" stroke="#444" stroke-width="1.6" stroke-linecap="butt"/>
<text transform="translate(125.75,885.10) scale(1.0182,1.0000)" font-family='"DejaVu Sans", sans-serif' font-weight="normal" stroke="#222" stroke-width="0.694" stroke-linejoin="round" font-size="24.5" fill="#222">0</text>
<text transform="translate(110.32,833.90) scale(1.0018,1.0000)" font-family='"DejaVu Sans", sans-serif' font-weight="normal" stroke="#222" stroke-width="0.699" stroke-linejoin="round" font-size="24.5" fill="#222">50</text>
<text transform="translate(94.34,770.90) scale(1.0118,1.0000)" font-family='"DejaVu Sans", sans-serif' font-weight="normal" stroke="#222" stroke-width="0.696" stroke-linejoin="round" font-size="24.5" fill="#222">100</text>
<text transform="translate(94.34,706.20) scale(1.0118,1.0000)" font-family='"DejaVu Sans", sans-serif' font-weight="normal" stroke="#222" stroke-width="0.696" stroke-linejoin="round" font-size="24.5" fill="#222">150</text>
<text transform="translate(95.27,642.20) scale(0.9914,1.0000)" font-family='"DejaVu Sans", sans-serif' font-weight="normal" stroke="#222" stroke-width="0.703" stroke-linejoin="round" font-size="24.5" fill="#222">200</text>
<text transform="translate(95.27,577.70) scale(0.9914,1.0000)" font-family='"DejaVu Sans", sans-serif' font-weight="normal" stroke="#222" stroke-width="0.703" stroke-linejoin="round" font-size="24.5" fill="#222">250</text>
<line x1="157.50" y1="886.30" x2="157.50" y2="895.50" stroke="#111" stroke-width="2.6" stroke-linecap="butt"/>
<line x1="176.93" y1="886.30" x2="176.93" y2="891.30" stroke="#333" stroke-width="1.7" stroke-linecap="butt"/>
<line x1="188.88" y1="886.30" x2="188.88" y2="891.30" stroke="#333" stroke-width="1.7" stroke-linecap="butt"/>
<line x1="197.36" y1="886.30" x2="197.36" y2="891.30" stroke="#333" stroke-width="1.7" stroke-linecap="butt"/>
<line x1="203.93" y1="886.30" x2="203.93" y2="891.30" stroke="#333" stroke-width="1.7" stroke-linecap="butt"/>
<line x1="209.31" y1="886.30" x2="209.31" y2="891.30" stroke="#333" stroke-width="1.7" stroke-linecap="butt"/>
<line x1="213.85" y1="886.30" x2="213.85" y2="891.30" stroke="#333" stroke-width="1.7" stroke-linecap="butt"/>
<line x1="217.78" y1="886.30" x2="217.78" y2="891.30" stroke="#333" stroke-width="1.7" stroke-linecap="butt"/>
<line x1="221.26" y1="886.30" x2="221.26" y2="891.30" stroke="#333" stroke-width="1.7" stroke-linecap="butt"/>
<line x1="224.36" y1="886.30" x2="224.36" y2="895.50" stroke="#111" stroke-width="2.6" stroke-linecap="butt"/>
<line x1="245.48" y1="886.30" x2="245.48" y2="891.30" stroke="#333" stroke-width="1.7" stroke-linecap="butt"/>
<line x1="257.84" y1="886.30" x2="257.84" y2="891.30" stroke="#333" stroke-width="1.7" stroke-linecap="butt"/>
<line x1="266.60" y1="886.30" x2="266.60" y2="891.30" stroke="#333" stroke-width="1.7" stroke-linecap="butt"/>
<line x1="273.40" y1="886.30" x2="273.40" y2="891.30" stroke="#333" stroke-width="1.7" stroke-linecap="butt"/>
<line x1="278.96" y1="886.30" x2="278.96" y2="891.30" stroke="#333" stroke-width="1.7" stroke-linecap="butt"/>
<line x1="283.65" y1="886.30" x2="283.65" y2="891.30" stroke="#333" stroke-width="1.7" stroke-linecap="butt"/>
<line x1="287.72" y1="886.30" x2="287.72" y2="891.30" stroke="#333" stroke-width="1.7" stroke-linecap="butt"/>
<line x1="291.31" y1="886.30" x2="291.31" y2="891.30" stroke="#333" stroke-width="1.7" stroke-linecap="butt"/>
<line x1="294.52" y1="886.30" x2="294.52" y2="895.50" stroke="#111" stroke-width="2.6" stroke-linecap="butt"/>
<line x1="315.64" y1="886.30" x2="315.64" y2="891.30" stroke="#333" stroke-width="1.7" stroke-linecap="butt"/>
<line x1="328.00" y1="886.30" x2="328.00" y2="891.30" stroke="#333" stroke-width="1.7" stroke-linecap="butt"/>
<line x1="336.76" y1="886.30" x2="336.76" y2="891.30" stroke="#333" stroke-width="1.7" stroke-linecap="butt"/>
<line x1="343.56" y1="886.30" x2="343.56" y2="891.30" stroke="#333" stroke-width="1.7" stroke-linecap="butt"/>
<line x1="349.12" y1="886.30" x2="349.12" y2="891.30" stroke="#333" stroke-width="1.7" stroke-linecap="butt"/>
<line x1="353.81" y1="886.30" x2="353.81" y2="891.30" stroke="#333" stroke-width="1.7" stroke-linecap="butt"/>
<line x1="357.88" y1="886.30" x2="357.88" y2="891.30" stroke="#333" stroke-width="1.7" stroke-linecap="butt"/>
<line x1="361.47" y1="886.30" x2="361.47" y2="891.30" stroke="#333" stroke-width="1.7" stroke-linecap="butt"/>
<line x1="364.68" y1="886.30" x2="364.68" y2="895.50" stroke="#111" stroke-width="2.6" stroke-linecap="butt"/>
<line x1="385.74" y1="886.30" x2="385.74" y2="891.30" stroke="#333" stroke-width="1.7" stroke-linecap="butt"/>
<line x1="398.06" y1="886.30" x2="398.06" y2="891.30" stroke="#333" stroke-width="1.7" stroke-linecap="butt"/>
<line x1="406.80" y1="886.30" x2="406.80" y2="891.30" stroke="#333" stroke-width="1.7" stroke-linecap="butt"/>
<line x1="413.58" y1="886.30" x2="413.58" y2="891.30" stroke="#333" stroke-width="1.7" stroke-linecap="butt"/>
<line x1="419.12" y1="886.30" x2="419.12" y2="891.30" stroke="#333" stroke-width="1.7" stroke-linecap="butt"/>
<line x1="423.80" y1="886.30" x2="423.80" y2="891.30" stroke="#333" stroke-width="1.7" stroke-linecap="butt"/>
<line x1="427.86" y1="886.30" x2="427.86" y2="891.30" stroke="#333" stroke-width="1.7" stroke-linecap="butt"/>
<line x1="431.44" y1="886.30" x2="431.44" y2="891.30" stroke="#333" stroke-width="1.7" stroke-linecap="butt"/>
<line x1="434.64" y1="886.30" x2="434.64" y2="895.50" stroke="#111" stroke-width="2.6" stroke-linecap="butt"/>
<line x1="456.39" y1="886.30" x2="456.39" y2="891.30" stroke="#333" stroke-width="1.7" stroke-linecap="butt"/>
<line x1="469.12" y1="886.30" x2="469.12" y2="891.30" stroke="#333" stroke-width="1.7" stroke-linecap="butt"/>
<line x1="478.15" y1="886.30" x2="478.15" y2="891.30" stroke="#333" stroke-width="1.7" stroke-linecap="butt"/>
<line x1="485.15" y1="886.30" x2="485.15" y2="891.30" stroke="#333" stroke-width="1.7" stroke-linecap="butt"/>
<line x1="490.87" y1="886.30" x2="490.87" y2="891.30" stroke="#333" stroke-width="1.7" stroke-linecap="butt"/>
<line x1="495.71" y1="886.30" x2="495.71" y2="891.30" stroke="#333" stroke-width="1.7" stroke-linecap="butt"/>
<line x1="499.90" y1="886.30" x2="499.90" y2="891.30" stroke="#333" stroke-width="1.7" stroke-linecap="butt"/>
<line x1="503.59" y1="886.30" x2="503.59" y2="891.30" stroke="#333" stroke-width="1.7" stroke-linecap="butt"/>
<line x1="505.90" y1="886.30" x2="505.90" y2="895.50" stroke="#111" stroke-width="2.6" stroke-linecap="butt"/>
<text transform="translate(162.49,932.00) scale(0.9926,1.0000)" font-family='"DejaVu Sans", sans-serif' font-weight="normal" stroke="#222" stroke-width="0.703" stroke-linejoin="round" font-size="24.5" fill="#222">10</text>
<text transform="translate(192.84,914.30) scale(0.9616,1.0000)" font-family='"DejaVu Sans", sans-serif' font-weight="normal" stroke="#222" stroke-width="0.714" stroke-linejoin="round" font-size="24.5" fill="#222">0</text>
<text transform="translate(216.96,932.00) scale(0.9926,1.0000)" font-family='"DejaVu Sans", sans-serif' font-weight="normal" stroke="#222" stroke-width="0.703" stroke-linejoin="round" font-size="24.5" fill="#222">10</text>
<text transform="translate(247.97,914.30) scale(0.9116,1.0000)" font-family='"DejaVu Sans", sans-serif' font-weight="normal" stroke="#222" stroke-width="0.733" stroke-linejoin="round" font-size="24.5" fill="#222">1</text>
<text transform="translate(287.12,932.00) scale(0.9926,1.0000)" font-family='"DejaVu Sans", sans-serif' font-weight="normal" stroke="#222" stroke-width="0.703" stroke-linejoin="round" font-size="24.5" fill="#222">10</text>
<text transform="translate(317.19,914.30) scale(1.0462,1.0000)" font-family='"DejaVu Sans", sans-serif' font-weight="normal" stroke="#222" stroke-width="0.684" stroke-linejoin="round" font-size="24.5" fill="#222">2</text>
<text transform="translate(357.28,932.00) scale(0.9926,1.0000)" font-family='"DejaVu Sans", sans-serif' font-weight="normal" stroke="#222" stroke-width="0.703" stroke-linejoin="round" font-size="24.5" fill="#222">10</text>
<text transform="translate(387.28,914.30) scale(1.0128,1.0000)" font-family='"DejaVu Sans", sans-serif' font-weight="normal" stroke="#222" stroke-width="0.696" stroke-linejoin="round" font-size="24.5" fill="#222">3</text>
<text transform="translate(427.24,932.00) scale(0.9926,1.0000)" font-family='"DejaVu Sans", sans-serif' font-weight="normal" stroke="#222" stroke-width="0.703" stroke-linejoin="round" font-size="24.5" fill="#222">10</text>
<text transform="translate(458.12,914.30) scale(0.9067,1.0000)" font-family='"DejaVu Sans", sans-serif' font-weight="normal" stroke="#222" stroke-width="0.735" stroke-linejoin="round" font-size="24.5" fill="#222">4</text>
<text transform="translate(461.79,932.00) scale(0.9926,1.0000)" font-family='"DejaVu Sans", sans-serif' font-weight="normal" stroke="#222" stroke-width="0.703" stroke-linejoin="round" font-size="24.5" fill="#222">10</text>
<text transform="translate(491.78,914.30) scale(1.0237,1.0000)" font-family='"DejaVu Sans", sans-serif' font-weight="normal" stroke="#222" stroke-width="0.692" stroke-linejoin="round" font-size="24.5" fill="#222">5</text>
<line x1="508.20" y1="886.30" x2="508.20" y2="895.50" stroke="#111" stroke-width="2.6" stroke-linecap="butt"/>
<line x1="527.63" y1="886.30" x2="527.63" y2="891.30" stroke="#333" stroke-width="1.7" stroke-linecap="butt"/>
<line x1="539.58" y1="886.30" x2="539.58" y2="891.30" stroke="#333" stroke-width="1.7" stroke-linecap="butt"/>
<line x1="548.06" y1="886.30" x2="548.06" y2="891.30" stroke="#333" stroke-width="1.7" stroke-linecap="butt"/>
<line x1="554.63" y1="886.30" x2="554.63" y2="891.30" stroke="#333" stroke-width="1.7" stroke-linecap="butt"/>
<line x1="560.01" y1="886.30" x2="560.01" y2="891.30" stroke="#333" stroke-width="1.7" stroke-linecap="butt"/>
<line x1="564.55" y1="886.30" x2="564.55" y2="891.30" stroke="#333" stroke-width="1.7" stroke-linecap="butt"/>
<line x1="568.48" y1="886.30" x2="568.48" y2="891.30" stroke="#333" stroke-width="1.7" stroke-linecap="butt"/>
<line x1="571.96" y1="886.30" x2="571.96" y2="891.30" stroke="#333" stroke-width="1.7" stroke-linecap="butt"/>
<line x1="575.06" y1="886.30" x2="575.06" y2="895.50" stroke="#111" stroke-width="2.6" stroke-linecap="butt"/>
<line x1="596.18" y1="886.30" x2="596.18" y2="891.30" stroke="#333" stroke-width="1.7" stroke-linecap="butt"/>
<line x1="608.54" y1="886.30" x2="608.54" y2="891.30" stroke="#333" stroke-width="1.7" stroke-linecap="butt"/>
<line x1="617.30" y1="886.30" x2="617.30" y2="891.30" stroke="#333" stroke-width="1.7" stroke-linecap="butt"/>
<line x1="624.10" y1="886.30" x2="624.10" y2="891.30" stroke="#333" stroke-width="1.7" stroke-linecap="butt"/>
<line x1="629.66" y1="886.30" x2="629.66" y2="891.30" stroke="#333" stroke-width="1.7" stroke-linecap="butt"/>
<line x1="634.35" y1="886.30" x2="634.35" y2="891.30" stroke="#333" stroke-width="1.7" stroke-linecap="butt"/>
<line x1="638.42" y1="886.30" x2="638.42" y2="891.30" stroke="#333" stroke-width="1.7" stroke-linecap="butt"/>
<line x1="642.01" y1="886.30" x2="642.01" y2="891.30" stroke="#333" stroke-width="1.7" stroke-linecap="butt"/>
<line x1="645.22" y1="886.30" x2="645.22" y2="895.50" stroke="#111" stroke-width="2.6" stroke-linecap="butt"/>
<line x1="666.34" y1="886.30" x2="666.34" y2="891.30" stroke="#333" stroke-width="1.7" stroke-linecap="butt"/>
<line x1="678.70" y1="886.30" x2="678.70" y2="891.30" stroke="#333" stroke-width="1.7" stroke-linecap="butt"/>
<line x1="687.46" y1="886.30" x2="687.46" y2="891.30" stroke="#333" stroke-width="1.7" stroke-linecap="butt"/>
<line x1="694.26" y1="886.30" x2="694.26" y2="891.30" stroke="#333" stroke-width="1.7" stroke-linecap="butt"/>
<line x1="699.82" y1="886.30" x2="699.82" y2="891.30" stroke="#333" stroke-width="1.7" stroke-linecap="butt"/>
<line x1="704.51" y1="886.30" x2="704.51" y2="891.30" stroke="#333" stroke-width="1.7" stroke-linecap="butt"/>
<line x1="708.58" y1="886.30" x2="708.58" y2="891.30" stroke="#333" stroke-width="1.7" stroke-linecap="butt"/>
<line x1="712.17" y1="886.30" x2="712.17" y2="891.30" stroke="#333" stroke-width="1.7" stroke-linecap="butt"/>
<line x1="715.38" y1="886.30" x2="715.38" y2="895.50" stroke="#111" stroke-width="2.6" stroke-linecap="butt"/>
<line x1="736.44" y1="886.30" x2="736.44" y2="891.30" stroke="#333" stroke-width="1.7" stroke-linecap="butt"/>
<line x1="748.76" y1="886.30" x2="748.76" y2="891.30" stroke="#333" stroke-width="1.7" stroke-linecap="butt"/>
<line x1="757.50" y1="886.30" x2="757.50" y2="891.30" stroke="#333" stroke-width="1.7" stroke-linecap="butt"/>
<line x1="764.28" y1="886.30" x2="764.28" y2="891.30" stroke="#333" stroke-width="1.7" stroke-linecap="butt"/>
<line x1="769.82" y1="886.30" x2="769.82" y2="891.30" stroke="#333" stroke-width="1.7" stroke-linecap="butt"/>
<line x1="774.50" y1="886.30" x2="774.50" y2="891.30" stroke="#333" stroke-width="1.7" stroke-linecap="butt"/>
<line x1="778.56" y1="886.30" x2="778.56" y2="891.30" stroke="#333" stroke-width="1.7" stroke-linecap="butt"/>
<line x1="782.14" y1="886.30" x2="782.14" y2="891.30" stroke="#333" stroke-width="1.7" stroke-linecap="butt"/>
<line x1="785.34" y1="886.30" x2="785.34" y2="895.50" stroke="#111" stroke-width="2.6" stroke-linecap="butt"/>
<line x1="807.09" y1="886.30" x2="807.09" y2="891.30" stroke="#333" stroke-width="1.7" stroke-linecap="butt"/>
<line x1="819.82" y1="886.30" x2="819.82" y2="891.30" stroke="#333" stroke-width="1.7" stroke-linecap="butt"/>
<line x1="828.85" y1="886.30" x2="828.85" y2="891.30" stroke="#333" stroke-width="1.7" stroke-linecap="butt"/>
<line x1="835.85" y1="886.30" x2="835.85" y2="891.30" stroke="#333" stroke-width="1.7" stroke-linecap="butt"/>
<line x1="841.57" y1="886.30" x2="841.57" y2="891.30" stroke="#333" stroke-width="1.7" stroke-linecap="butt"/>
<line x1="846.41" y1="886.30" x2="846.41" y2="891.30" stroke="#333" stroke-width="1.7" stroke-linecap="butt"/>
<line x1="850.60" y1="886.30" x2="850.60" y2="891.30" stroke="#333" stroke-width="1.7" stroke-linecap="butt"/>
<line x1="854.29" y1="886.30" x2="854.29" y2="891.30" stroke="#333" stroke-width="1.7" stroke-linecap="butt"/>
<line x1="856.60" y1="886.30" x2="856.60" y2="895.50" stroke="#111" stroke-width="2.6" stroke-linecap="butt"/>
<text transform="translate(513.19,932.00) scale(0.9926,1.0000)" font-family='"DejaVu Sans", sans-serif' font-weight="normal" stroke="#222" stroke-width="0.703" stroke-linejoin="round" font-size="24.5" fill="#222">10</text>
<text transform="translate(543.54,914.30) scale(0.9616,1.0000)" font-family='"DejaVu Sans", sans-serif' font-weight="normal" stroke="#222" stroke-width="0.714" stroke-linejoin="round" font-size="24.5" fill="#222">0</text>
<text transform="translate(567.66,932.00) scale(0.9926,1.0000)" font-family='"DejaVu Sans", sans-serif' font-weight="normal" stroke="#222" stroke-width="0.703" stroke-linejoin="round" font-size="24.5" fill="#222">10</text>
<text transform="translate(598.67,914.30) scale(0.9116,1.0000)" font-family='"DejaVu Sans", sans-serif' font-weight="normal" stroke="#222" stroke-width="0.733" stroke-linejoin="round" font-size="24.5" fill="#222">1</text>
<text transform="translate(637.82,932.00) scale(0.9926,1.0000)" font-family='"DejaVu Sans", sans-serif' font-weight="normal" stroke="#222" stroke-width="0.703" stroke-linejoin="round" font-size="24.5" fill="#222">10</text>
<text transform="translate(667.89,914.30) scale(1.0462,1.0000)" font-family='"DejaVu Sans", sans-serif' font-weight="normal" stroke="#222" stroke-width="0.684" stroke-linejoin="round" font-size="24.5" fill="#222">2</text>
<text transform="translate(707.98,932.00) scale(0.9926,1.0000)" font-family='"DejaVu Sans", sans-serif' font-weight="normal" stroke="#222" stroke-width="0.703" stroke-linejoin="round" font-size="24.5" fill="#222">10</text>
<text transform="translate(737.98,914.30) scale(1.0128,1.0000)" font-family='"DejaVu Sans", sans-serif' font-weight="normal" stroke="#222" stroke-width="0.696" stroke-linejoin="round" font-size="24.5" fill="#222">3</text>
<text transform="translate(777.94,932.00) scale(0.9926,1.0000)" font-family='"DejaVu Sans", sans-serif' font-weight="normal" stroke="#222" stroke-width="0.703" stroke-linejoin="round" font-size="24.5" fill="#222">10</text>
<text transform="translate(808.82,914.30) scale(0.9067,1.0000)" font-family='"DejaVu Sans", sans-serif' font-weight="normal" stroke="#222" stroke-width="0.735" stroke-linejoin="round" font-size="24.5" fill="#222">4</text>
<text transform="translate(812.49,932.00) scale(0.9926,1.0000)" font-family='"DejaVu Sans", sans-serif' font-weight="normal" stroke="#222" stroke-width="0.703" stroke-linejoin="round" font-size="24.5" fill="#222">10</text>
<text transform="translate(842.48,914.30) scale(1.0237,1.0000)" font-family='"DejaVu Sans", sans-serif' font-weight="normal" stroke="#222" stroke-width="0.692" stroke-linejoin="round" font-size="24.5" fill="#222">5</text>
<line x1="858.90" y1="886.30" x2="858.90" y2="895.50" stroke="#111" stroke-width="2.6" stroke-linecap="butt"/>
<line x1="878.41" y1="886.30" x2="878.41" y2="891.30" stroke="#333" stroke-width="1.7" stroke-linecap="butt"/>
<line x1="890.41" y1="886.30" x2="890.41" y2="891.30" stroke="#333" stroke-width="1.7" stroke-linecap="butt"/>
<line x1="898.92" y1="886.30" x2="898.92" y2="891.30" stroke="#333" stroke-width="1.7" stroke-linecap="butt"/>
<line x1="905.52" y1="886.30" x2="905.52" y2="891.30" stroke="#333" stroke-width="1.7" stroke-linecap="butt"/>
<line x1="910.92" y1="886.30" x2="910.92" y2="891.30" stroke="#333" stroke-width="1.7" stroke-linecap="butt"/>
<line x1="915.48" y1="886.30" x2="915.48" y2="891.30" stroke="#333" stroke-width="1.7" stroke-linecap="butt"/>
<line x1="919.43" y1="886.30" x2="919.43" y2="891.30" stroke="#333" stroke-width="1.7" stroke-linecap="butt"/>
<line x1="922.91" y1="886.30" x2="922.91" y2="891.30" stroke="#333" stroke-width="1.7" stroke-linecap="butt"/>
<line x1="926.03" y1="886.30" x2="926.03" y2="895.50" stroke="#111" stroke-width="2.6" stroke-linecap="butt"/>
<line x1="947.24" y1="886.30" x2="947.24" y2="891.30" stroke="#333" stroke-width="1.7" stroke-linecap="butt"/>
<line x1="959.64" y1="886.30" x2="959.64" y2="891.30" stroke="#333" stroke-width="1.7" stroke-linecap="butt"/>
<line x1="968.44" y1="886.30" x2="968.44" y2="891.30" stroke="#333" stroke-width="1.7" stroke-linecap="butt"/>
<line x1="975.27" y1="886.30" x2="975.27" y2="891.30" stroke="#333" stroke-width="1.7" stroke-linecap="butt"/>
<line x1="980.85" y1="886.30" x2="980.85" y2="891.30" stroke="#333" stroke-width="1.7" stroke-linecap="butt"/>
<line x1="985.56" y1="886.30" x2="985.56" y2="891.30" stroke="#333" stroke-width="1.7" stroke-linecap="butt"/>
<line x1="989.65" y1="886.30" x2="989.65" y2="891.30" stroke="#333" stroke-width="1.7" stroke-linecap="butt"/>
<line x1="993.25" y1="886.30" x2="993.25" y2="891.30" stroke="#333" stroke-width="1.7" stroke-linecap="butt"/>
<line x1="996.47" y1="886.30" x2="996.47" y2="895.50" stroke="#111" stroke-width="2.6" stroke-linecap="butt"/>
<line x1="1017.68" y1="886.30" x2="1017.68" y2="891.30" stroke="#333" stroke-width="1.7" stroke-linecap="butt"/>
<line x1="1030.08" y1="886.30" x2="1030.08" y2="891.30" stroke="#333" stroke-width="1.7" stroke-linecap="butt"/>
<line x1="1038.88" y1="886.30" x2="1038.88" y2="891.30" stroke="#333" stroke-width="1.7" stroke-linecap="butt"/>
<line x1="1045.71" y1="886.30" x2="1045.71" y2="891.30" stroke="#333" stroke-width="1.7" stroke-linecap="butt"/>
<line x1="1051.29" y1="886.30" x2="1051.29" y2="891.30" stroke="#333" stroke-width="1.7" stroke-linecap="butt"/>
<line x1="1056.00" y1="886.30" x2="1056.00" y2="891.30" stroke="#333" stroke-width="1.7" stroke-linecap="butt"/>
<line x1="1060.09" y1="886.30" x2="1060.09" y2="891.30" stroke="#333" stroke-width="1.7" stroke-linecap="butt"/>
<line x1="1063.69" y1="886.30" x2="1063.69" y2="891.30" stroke="#333" stroke-width="1.7" stroke-linecap="butt"/>
<line x1="1066.91" y1="886.30" x2="1066.91" y2="895.50" stroke="#111" stroke-width="2.6" stroke-linecap="butt"/>
<line x1="1088.06" y1="886.30" x2="1088.06" y2="891.30" stroke="#333" stroke-width="1.7" stroke-linecap="butt"/>
<line x1="1100.43" y1="886.30" x2="1100.43" y2="891.30" stroke="#333" stroke-width="1.7" stroke-linecap="butt"/>
<line x1="1109.20" y1="886.30" x2="1109.20" y2="891.30" stroke="#333" stroke-width="1.7" stroke-linecap="butt"/>
<line x1="1116.01" y1="886.30" x2="1116.01" y2="891.30" stroke="#333" stroke-width="1.7" stroke-linecap="butt"/>
<line x1="1121.57" y1="886.30" x2="1121.57" y2="891.30" stroke="#333" stroke-width="1.7" stroke-linecap="butt"/>
<line x1="1126.27" y1="886.30" x2="1126.27" y2="891.30" stroke="#333" stroke-width="1.7" stroke-linecap="butt"/>
<line x1="1130.34" y1="886.30" x2="1130.34" y2="891.30" stroke="#333" stroke-width="1.7" stroke-linecap="butt"/>
<line x1="1133.94" y1="886.30" x2="1133.94" y2="891.30" stroke="#333" stroke-width="1.7" stroke-linecap="butt"/>
<line x1="1137.15" y1="886.30" x2="1137.15" y2="895.50" stroke="#111" stroke-width="2.6" stroke-linecap="butt"/>
<line x1="1158.99" y1="886.30" x2="1158.99" y2="891.30" stroke="#333" stroke-width="1.7" stroke-linecap="butt"/>
<line x1="1171.77" y1="886.30" x2="1171.77" y2="891.30" stroke="#333" stroke-width="1.7" stroke-linecap="butt"/>
<line x1="1180.83" y1="886.30" x2="1180.83" y2="891.30" stroke="#333" stroke-width="1.7" stroke-linecap="butt"/>
<line x1="1187.86" y1="886.30" x2="1187.86" y2="891.30" stroke="#333" stroke-width="1.7" stroke-linecap="butt"/>
<line x1="1193.60" y1="886.30" x2="1193.60" y2="891.30" stroke="#333" stroke-width="1.7" stroke-linecap="butt"/>
<line x1="1198.46" y1="886.30" x2="1198.46" y2="891.30" stroke="#333" stroke-width="1.7" stroke-linecap="butt"/>
<line x1="1202.67" y1="886.30" x2="1202.67" y2="891.30" stroke="#333" stroke-width="1.7" stroke-linecap="butt"/>
<line x1="1206.38" y1="886.30" x2="1206.38" y2="891.30" stroke="#333" stroke-width="1.7" stroke-linecap="butt"/>
<line x1="1208.70" y1="886.30" x2="1208.70" y2="895.50" stroke="#111" stroke-width="2.6" stroke-linecap="butt"/>
<text transform="translate(863.89,932.00) scale(0.9926,1.0000)" font-family='"DejaVu Sans", sans-serif' font-weight="normal" stroke="#222" stroke-width="0.703" stroke-linejoin="round" font-size="24.5" fill="#222">10</text>
<text transform="translate(894.24,914.30) scale(0.9616,1.0000)" font-family='"DejaVu Sans", sans-serif' font-weight="normal" stroke="#222" stroke-width="0.714" stroke-linejoin="round" font-size="24.5" fill="#222">0</text>
<text transform="translate(918.63,932.00) scale(0.9926,1.0000)" font-family='"DejaVu Sans", sans-serif' font-weight="normal" stroke="#222" stroke-width="0.703" stroke-linejoin="round" font-size="24.5" fill="#222">10</text>
<text transform="translate(949.64,914.30) scale(0.9116,1.0000)" font-family='"DejaVu Sans", sans-serif' font-weight="normal" stroke="#222" stroke-width="0.733" stroke-linejoin="round" font-size="24.5" fill="#222">1</text>
<text transform="translate(989.07,932.00) scale(0.9926,1.0000)" font-family='"DejaVu Sans", sans-serif' font-weight="normal" stroke="#222" stroke-width="0.703" stroke-linejoin="round" font-size="24.5" fill="#222">10</text>
<text transform="translate(1019.14,914.30) scale(1.0462,1.0000)" font-family='"DejaVu Sans", sans-serif' font-weight="normal" stroke="#222" stroke-width="0.684" stroke-linejoin="round" font-size="24.5" fill="#222">2</text>
<text transform="translate(1059.51,932.00) scale(0.9926,1.0000)" font-family='"DejaVu Sans", sans-serif' font-weight="normal" stroke="#222" stroke-width="0.703" stroke-linejoin="round" font-size="24.5" fill="#222">10</text>
<text transform="translate(1089.51,914.30) scale(1.0128,1.0000)" font-family='"DejaVu Sans", sans-serif' font-weight="normal" stroke="#222" stroke-width="0.696" stroke-linejoin="round" font-size="24.5" fill="#222">3</text>
<text transform="translate(1129.75,932.00) scale(0.9926,1.0000)" font-family='"DejaVu Sans", sans-serif' font-weight="normal" stroke="#222" stroke-width="0.703" stroke-linejoin="round" font-size="24.5" fill="#222">10</text>
<text transform="translate(1160.63,914.30) scale(0.9067,1.0000)" font-family='"DejaVu Sans", sans-serif' font-weight="normal" stroke="#222" stroke-width="0.735" stroke-linejoin="round" font-size="24.5" fill="#222">4</text>
<text transform="translate(1164.59,932.00) scale(0.9926,1.0000)" font-family='"DejaVu Sans", sans-serif' font-weight="normal" stroke="#222" stroke-width="0.703" stroke-linejoin="round" font-size="24.5" fill="#222">10</text>
<text transform="translate(1194.58,914.30) scale(1.0237,1.0000)" font-family='"DejaVu Sans", sans-serif' font-weight="normal" stroke="#222" stroke-width="0.692" stroke-linejoin="round" font-size="24.5" fill="#222">5</text>
<text transform="translate(160.40,583.99) scale(1.2000,0.9895)" font-family='"DejaVu Sans", sans-serif' font-weight="normal" stroke="#1010e0" stroke-width="0.459" stroke-linejoin="round" font-size="32" fill="#1010e0">(–)</text>
<text transform="translate(409.83,583.99) scale(1.0443,0.9895)" font-family='"DejaVu Sans", sans-serif' font-weight="normal" stroke="#1010e0" stroke-width="0.492" stroke-linejoin="round" font-size="32" fill="#1010e0">(+)</text>
<text transform="translate(162.29,625.71) scale(1.0060,0.9720)" font-family='"DejaVu Sans Condensed", "DejaVu Sans", sans-serif' font-weight="bold" stroke="#fff" stroke-width="0.405" stroke-linejoin="round" font-size="33" fill="#1010e0">95.0</text>
<text transform="translate(388.34,625.71) scale(1.0036,0.9720)" font-family='"DejaVu Sans Condensed", "DejaVu Sans", sans-serif' font-weight="bold" stroke="#fff" stroke-width="0.405" stroke-linejoin="round" font-size="33" fill="#1010e0">5.04</text>
<text transform="translate(511.10,583.99) scale(1.2000,0.9895)" font-family='"DejaVu Sans", sans-serif' font-weight="normal" stroke="#1010e0" stroke-width="0.459" stroke-linejoin="round" font-size="32" fill="#1010e0">(–)</text>
<text transform="translate(760.53,583.99) scale(1.0443,0.9895)" font-family='"DejaVu Sans", sans-serif' font-weight="normal" stroke="#1010e0" stroke-width="0.492" stroke-linejoin="round" font-size="32" fill="#1010e0">(+)</text>
<text transform="translate(511.01,625.71) scale(1.0336,0.9720)" font-family='"DejaVu Sans Condensed", "DejaVu Sans", sans-serif' font-weight="bold" stroke="#fff" stroke-width="0.399" stroke-linejoin="round" font-size="33" fill="#1010e0">13.0</text>
<text transform="translate(739.55,625.71) scale(0.9982,0.9720)" font-family='"DejaVu Sans Condensed", "DejaVu Sans", sans-serif' font-weight="bold" stroke="#fff" stroke-width="0.406" stroke-linejoin="round" font-size="33" fill="#1010e0">87.0</text>
<text transform="translate(861.80,583.99) scale(1.2000,0.9895)" font-family='"DejaVu Sans", sans-serif' font-weight="normal" stroke="#1010e0" stroke-width="0.459" stroke-linejoin="round" font-size="32" fill="#1010e0">(–)</text>
<text transform="translate(1112.63,583.99) scale(1.0443,0.9895)" font-family='"DejaVu Sans", sans-serif' font-weight="normal" stroke="#1010e0" stroke-width="0.492" stroke-linejoin="round" font-size="32" fill="#1010e0">(+)</text>
<text transform="translate(862.76,625.71) scale(1.0279,0.9720)" font-family='"DejaVu Sans Condensed", "DejaVu Sans", sans-serif' font-weight="bold" stroke="#fff" stroke-width="0.400" stroke-linejoin="round" font-size="33" fill="#1010e0">2.45</text>
<text transform="translate(1091.91,625.71) scale(0.9964,0.9720)" font-family='"DejaVu Sans Condensed", "DejaVu Sans", sans-serif' font-weight="bold" stroke="#fff" stroke-width="0.406" stroke-linejoin="round" font-size="33" fill="#1010e0">97.6</text>
<path d="M241.9,1314.8 C244.9,1314.4 251.4,1314.5 256.7,1312.7 C262.0,1311.0 264.4,1310.0 268.5,1305.9 C272.7,1301.9 274.5,1299.5 277.4,1292.7 C280.4,1285.9 281.3,1282.6 283.3,1272.0 C285.4,1261.4 286.0,1256.6 287.8,1239.5 C289.5,1222.4 290.7,1206.4 292.2,1186.3 C293.7,1166.3 294.0,1159.2 295.2,1139.1 C296.3,1119.0 296.9,1104.8 298.1,1085.9 C299.3,1067.0 299.8,1058.8 301.1,1044.6 C302.4,1030.4 303.1,1022.4 304.6,1015.0 C306.1,1007.7 307.3,1009.4 308.5,1007.7 C309.7,1006.2 309.7,1006.2 310.5,1006.2 C311.4,1008.8 311.8,1015.0 312.9,1020.9 C314.0,1026.9 314.7,1030.4 315.9,1035.7 C317.0,1041.0 317.9,1040.4 318.8,1047.5 C319.7,1054.6 319.4,1065.0 320.3,1071.2 C321.2,1077.4 322.1,1072.0 323.3,1078.5 C324.4,1085.0 324.7,1090.4 326.2,1103.6 C327.7,1116.9 328.6,1128.5 330.6,1145.0 C332.7,1161.5 333.6,1169.2 336.6,1186.3 C339.5,1203.5 341.9,1215.3 345.4,1230.6 C349.0,1246.0 350.8,1252.2 354.3,1263.1 C357.9,1274.1 359.6,1277.9 363.2,1285.3 C366.7,1292.7 367.9,1294.9 372.0,1300.0 C376.2,1305.2 379.1,1307.9 383.9,1311.0 C388.6,1314.0 393.3,1314.5 395.7,1315.4Z" fill="#909090" stroke="#111" stroke-width="1.9" stroke-linejoin="round"/>
<path d="M645.5,1314.8 C648.1,1313.4 653.5,1313.6 658.2,1307.8 C663.0,1302.0 665.5,1297.1 669.3,1285.7 C673.1,1274.3 674.4,1268.0 677.2,1250.9 C680.1,1233.8 681.3,1223.1 683.5,1200.3 C685.8,1177.6 686.7,1163.0 688.3,1137.1 C689.9,1111.2 689.9,1087.1 691.5,1070.7 C693.1,1054.9 694.3,1065.6 696.2,1054.9 C698.1,1044.1 699.4,1028.3 701.0,1017.0 C702.6,1005.6 702.7,1004.2 704.1,998.0 C705.6,991.8 707.0,986.0 708.3,986.0 C709.5,986.0 709.7,986.0 710.5,998.0 C711.2,1011.1 711.1,1035.3 712.1,1051.7 C713.0,1068.2 714.0,1072.6 715.2,1080.2 C716.5,1087.8 717.1,1080.2 718.4,1089.7 C719.7,1101.1 720.3,1115.0 721.6,1137.1 C722.8,1159.2 723.1,1175.0 724.7,1200.3 C726.3,1225.6 727.6,1243.3 729.5,1263.6 C731.4,1283.8 731.7,1291.5 734.2,1301.5 C736.8,1311.5 739.0,1310.7 742.2,1313.5 C745.3,1315.4 748.5,1315.0 750.1,1315.4Z" fill="#909090" stroke="#111" stroke-width="1.9" stroke-linejoin="round"/>
<path d="M1009.8,1314.8 C1011.7,1313.7 1015.5,1313.9 1019.3,1309.4 C1023.1,1304.8 1025.4,1301.8 1028.8,1292.0 C1032.3,1282.2 1033.9,1276.8 1036.8,1260.4 C1039.6,1244.0 1040.9,1232.0 1043.1,1209.8 C1045.3,1187.7 1046.0,1174.4 1047.9,1149.8 C1049.8,1125.1 1051.0,1103.0 1052.6,1086.6 C1054.2,1070.1 1054.3,1073.9 1055.8,1067.6 C1057.2,1061.3 1058.4,1063.8 1059.9,1054.9 C1061.3,1046.1 1062.0,1031.9 1063.1,1023.3 C1064.1,1014.8 1064.5,1014.2 1065.3,1012.3 C1066.0,1012.3 1066.0,1012.3 1066.9,1013.9 C1067.7,1018.0 1068.3,1029.3 1069.4,1032.8 C1070.5,1032.8 1071.5,1031.2 1072.6,1031.2 C1073.6,1033.1 1073.7,1031.2 1074.8,1042.3 C1075.9,1054.6 1076.7,1070.1 1077.9,1092.9 C1079.2,1115.6 1079.5,1130.8 1081.1,1156.1 C1082.7,1181.4 1084.0,1196.6 1085.9,1219.3 C1087.8,1242.1 1088.4,1253.4 1090.6,1269.9 C1092.8,1286.3 1093.8,1292.8 1097.0,1301.5 C1100.1,1310.2 1103.3,1310.7 1106.5,1313.5 C1109.6,1315.4 1111.5,1315.0 1112.8,1315.4Z" fill="#909090" stroke="#111" stroke-width="1.9" stroke-linejoin="round"/>
<line x1="152.10" y1="965.20" x2="1207.40" y2="965.20" stroke="#6e6e6e" stroke-width="2.8" stroke-linecap="butt"/>
<line x1="152.10" y1="1315.60" x2="1207.40" y2="1315.60" stroke="#6e6e6e" stroke-width="2.8" stroke-linecap="butt"/>
<line x1="153.50" y1="965.20" x2="153.50" y2="1315.60" stroke="#6e6e6e" stroke-width="2.8" stroke-linecap="butt"/>
<line x1="1206.00" y1="965.20" x2="1206.00" y2="1315.60" stroke="#6e6e6e" stroke-width="2.8" stroke-linecap="butt"/>
<line x1="504.50" y1="965.20" x2="504.50" y2="1315.60" stroke="#686868" stroke-width="2.2" stroke-linecap="butt"/>
<line x1="855.20" y1="965.20" x2="855.20" y2="1315.60" stroke="#686868" stroke-width="2.2" stroke-linecap="butt"/>
<line x1="153.50" y1="965.20" x2="153.50" y2="1317.40" stroke="#707070" stroke-width="3.6" stroke-linecap="butt"/>
<line x1="151.70" y1="1315.80" x2="1206.00" y2="1315.80" stroke="#707070" stroke-width="3.8" stroke-linecap="butt"/>
<line x1="153.50" y1="1185.00" x2="354.00" y2="1185.00" stroke="#000" stroke-width="2.6" stroke-linecap="butt"/>
<line x1="354.00" y1="1178.70" x2="354.00" y2="1191.30" stroke="#000" stroke-width="2.3" stroke-linecap="butt"/>
<line x1="353.20" y1="1202.90" x2="504.50" y2="1202.90" stroke="#000" stroke-width="2.6" stroke-linecap="butt"/>
<line x1="353.20" y1="1196.60" x2="353.20" y2="1209.20" stroke="#000" stroke-width="2.3" stroke-linecap="butt"/>
<line x1="503.70" y1="1196.60" x2="503.70" y2="1209.20" stroke="#000" stroke-width="2.3" stroke-linecap="butt"/>
<line x1="504.50" y1="1185.00" x2="705.10" y2="1185.00" stroke="#000" stroke-width="2.6" stroke-linecap="butt"/>
<line x1="705.10" y1="1178.70" x2="705.10" y2="1191.30" stroke="#000" stroke-width="2.3" stroke-linecap="butt"/>
<line x1="704.30" y1="1202.90" x2="855.20" y2="1202.90" stroke="#000" stroke-width="2.6" stroke-linecap="butt"/>
<line x1="704.30" y1="1196.60" x2="704.30" y2="1209.20" stroke="#000" stroke-width="2.3" stroke-linecap="butt"/>
<line x1="854.40" y1="1196.60" x2="854.40" y2="1209.20" stroke="#000" stroke-width="2.3" stroke-linecap="butt"/>
<line x1="855.20" y1="1185.00" x2="1056.40" y2="1185.00" stroke="#000" stroke-width="2.6" stroke-linecap="butt"/>
<line x1="1056.40" y1="1178.70" x2="1056.40" y2="1191.30" stroke="#000" stroke-width="2.3" stroke-linecap="butt"/>
<line x1="1055.60" y1="1202.90" x2="1206.00" y2="1202.90" stroke="#000" stroke-width="2.6" stroke-linecap="butt"/>
<line x1="1055.60" y1="1196.60" x2="1055.60" y2="1209.20" stroke="#000" stroke-width="2.3" stroke-linecap="butt"/>
<line x1="1205.20" y1="1196.60" x2="1205.20" y2="1209.20" stroke="#000" stroke-width="2.3" stroke-linecap="butt"/>
<line x1="143.50" y1="1313.80" x2="153.50" y2="1313.80" stroke="#222" stroke-width="2.1" stroke-linecap="butt"/>
<line x1="143.50" y1="1212.30" x2="153.50" y2="1212.30" stroke="#222" stroke-width="2.1" stroke-linecap="butt"/>
<line x1="143.50" y1="1112.50" x2="153.50" y2="1112.50" stroke="#222" stroke-width="2.1" stroke-linecap="butt"/>
<line x1="143.50" y1="1010.30" x2="153.50" y2="1010.30" stroke="#222" stroke-width="2.1" stroke-linecap="butt"/>
<line x1="148.20" y1="1293.50" x2="153.50" y2="1293.50" stroke="#444" stroke-width="1.6" stroke-linecap="butt"/>
<line x1="148.20" y1="1273.20" x2="153.50" y2="1273.20" stroke="#444" stroke-width="1.6" stroke-linecap="butt"/>
<line x1="148.20" y1="1252.90" x2="153.50" y2="1252.90" stroke="#444" stroke-width="1.6" stroke-linecap="butt"/>
<line x1="148.20" y1="1232.60" x2="153.50" y2="1232.60" stroke="#444" stroke-width="1.6" stroke-linecap="butt"/>
<line x1="148.20" y1="1192.34" x2="153.50" y2="1192.34" stroke="#444" stroke-width="1.6" stroke-linecap="butt"/>
<line x1="148.20" y1="1172.38" x2="153.50" y2="1172.38" stroke="#444" stroke-width="1.6" stroke-linecap="butt"/>
<line x1="148.20" y1="1152.42" x2="153.50" y2="1152.42" stroke="#444" stroke-width="1.6" stroke-linecap="butt"/>
<line x1="148.20" y1="1132.46" x2="153.50" y2="1132.46" stroke="#444" stroke-width="1.6" stroke-linecap="butt"/>
<line x1="148.20" y1="1092.06" x2="153.50" y2="1092.06" stroke="#444" stroke-width="1.6" stroke-linecap="butt"/>
<line x1="148.20" y1="1071.62" x2="153.50" y2="1071.62" stroke="#444" stroke-width="1.6" stroke-linecap="butt"/>
<line x1="148.20" y1="1051.18" x2="153.50" y2="1051.18" stroke="#444" stroke-width="1.6" stroke-linecap="butt"/>
<line x1="148.20" y1="1030.74" x2="153.50" y2="1030.74" stroke="#444" stroke-width="1.6" stroke-linecap="butt"/>
<line x1="148.20" y1="991.30" x2="153.50" y2="991.30" stroke="#444" stroke-width="1.6" stroke-linecap="butt"/>
<line x1="148.20" y1="970.30" x2="153.50" y2="970.30" stroke="#444" stroke-width="1.6" stroke-linecap="butt"/>
<text transform="translate(122.75,1314.30) scale(1.0182,1.0000)" font-family='"DejaVu Sans", sans-serif' font-weight="normal" stroke="#222" stroke-width="0.694" stroke-linejoin="round" font-size="24.5" fill="#222">0</text>
<text transform="translate(107.32,1225.60) scale(1.0018,1.0000)" font-family='"DejaVu Sans", sans-serif' font-weight="normal" stroke="#222" stroke-width="0.699" stroke-linejoin="round" font-size="24.5" fill="#222">50</text>
<text transform="translate(91.34,1125.80) scale(1.0118,1.0000)" font-family='"DejaVu Sans", sans-serif' font-weight="normal" stroke="#222" stroke-width="0.696" stroke-linejoin="round" font-size="24.5" fill="#222">100</text>
<text transform="translate(91.34,1023.60) scale(1.0118,1.0000)" font-family='"DejaVu Sans", sans-serif' font-weight="normal" stroke="#222" stroke-width="0.696" stroke-linejoin="round" font-size="24.5" fill="#222">150</text>
<line x1="154.50" y1="1315.60" x2="154.50" y2="1323.60" stroke="#111" stroke-width="2.6" stroke-linecap="butt"/>
<line x1="173.95" y1="1315.60" x2="173.95" y2="1320.20" stroke="#333" stroke-width="1.7" stroke-linecap="butt"/>
<line x1="185.91" y1="1315.60" x2="185.91" y2="1320.20" stroke="#333" stroke-width="1.7" stroke-linecap="butt"/>
<line x1="194.39" y1="1315.60" x2="194.39" y2="1320.20" stroke="#333" stroke-width="1.7" stroke-linecap="butt"/>
<line x1="200.97" y1="1315.60" x2="200.97" y2="1320.20" stroke="#333" stroke-width="1.7" stroke-linecap="butt"/>
<line x1="206.35" y1="1315.60" x2="206.35" y2="1320.20" stroke="#333" stroke-width="1.7" stroke-linecap="butt"/>
<line x1="210.90" y1="1315.60" x2="210.90" y2="1320.20" stroke="#333" stroke-width="1.7" stroke-linecap="butt"/>
<line x1="214.84" y1="1315.60" x2="214.84" y2="1320.20" stroke="#333" stroke-width="1.7" stroke-linecap="butt"/>
<line x1="218.31" y1="1315.60" x2="218.31" y2="1320.20" stroke="#333" stroke-width="1.7" stroke-linecap="butt"/>
<line x1="221.42" y1="1315.60" x2="221.42" y2="1323.60" stroke="#111" stroke-width="2.6" stroke-linecap="butt"/>
<line x1="242.56" y1="1315.60" x2="242.56" y2="1320.20" stroke="#333" stroke-width="1.7" stroke-linecap="butt"/>
<line x1="254.92" y1="1315.60" x2="254.92" y2="1320.20" stroke="#333" stroke-width="1.7" stroke-linecap="butt"/>
<line x1="263.70" y1="1315.60" x2="263.70" y2="1320.20" stroke="#333" stroke-width="1.7" stroke-linecap="butt"/>
<line x1="270.50" y1="1315.60" x2="270.50" y2="1320.20" stroke="#333" stroke-width="1.7" stroke-linecap="butt"/>
<line x1="276.06" y1="1315.60" x2="276.06" y2="1320.20" stroke="#333" stroke-width="1.7" stroke-linecap="butt"/>
<line x1="280.76" y1="1315.60" x2="280.76" y2="1320.20" stroke="#333" stroke-width="1.7" stroke-linecap="butt"/>
<line x1="284.83" y1="1315.60" x2="284.83" y2="1320.20" stroke="#333" stroke-width="1.7" stroke-linecap="butt"/>
<line x1="288.43" y1="1315.60" x2="288.43" y2="1320.20" stroke="#333" stroke-width="1.7" stroke-linecap="butt"/>
<line x1="291.64" y1="1315.60" x2="291.64" y2="1323.60" stroke="#111" stroke-width="2.6" stroke-linecap="butt"/>
<line x1="312.78" y1="1315.60" x2="312.78" y2="1320.20" stroke="#333" stroke-width="1.7" stroke-linecap="butt"/>
<line x1="325.14" y1="1315.60" x2="325.14" y2="1320.20" stroke="#333" stroke-width="1.7" stroke-linecap="butt"/>
<line x1="333.92" y1="1315.60" x2="333.92" y2="1320.20" stroke="#333" stroke-width="1.7" stroke-linecap="butt"/>
<line x1="340.72" y1="1315.60" x2="340.72" y2="1320.20" stroke="#333" stroke-width="1.7" stroke-linecap="butt"/>
<line x1="346.28" y1="1315.60" x2="346.28" y2="1320.20" stroke="#333" stroke-width="1.7" stroke-linecap="butt"/>
<line x1="350.98" y1="1315.60" x2="350.98" y2="1320.20" stroke="#333" stroke-width="1.7" stroke-linecap="butt"/>
<line x1="355.05" y1="1315.60" x2="355.05" y2="1320.20" stroke="#333" stroke-width="1.7" stroke-linecap="butt"/>
<line x1="358.65" y1="1315.60" x2="358.65" y2="1320.20" stroke="#333" stroke-width="1.7" stroke-linecap="butt"/>
<line x1="361.86" y1="1315.60" x2="361.86" y2="1323.60" stroke="#111" stroke-width="2.6" stroke-linecap="butt"/>
<line x1="382.94" y1="1315.60" x2="382.94" y2="1320.20" stroke="#333" stroke-width="1.7" stroke-linecap="butt"/>
<line x1="395.27" y1="1315.60" x2="395.27" y2="1320.20" stroke="#333" stroke-width="1.7" stroke-linecap="butt"/>
<line x1="404.02" y1="1315.60" x2="404.02" y2="1320.20" stroke="#333" stroke-width="1.7" stroke-linecap="butt"/>
<line x1="410.80" y1="1315.60" x2="410.80" y2="1320.20" stroke="#333" stroke-width="1.7" stroke-linecap="butt"/>
<line x1="416.35" y1="1315.60" x2="416.35" y2="1320.20" stroke="#333" stroke-width="1.7" stroke-linecap="butt"/>
<line x1="421.03" y1="1315.60" x2="421.03" y2="1320.20" stroke="#333" stroke-width="1.7" stroke-linecap="butt"/>
<line x1="425.09" y1="1315.60" x2="425.09" y2="1320.20" stroke="#333" stroke-width="1.7" stroke-linecap="butt"/>
<line x1="428.68" y1="1315.60" x2="428.68" y2="1320.20" stroke="#333" stroke-width="1.7" stroke-linecap="butt"/>
<line x1="431.88" y1="1315.60" x2="431.88" y2="1323.60" stroke="#111" stroke-width="2.6" stroke-linecap="butt"/>
<line x1="453.65" y1="1315.60" x2="453.65" y2="1320.20" stroke="#333" stroke-width="1.7" stroke-linecap="butt"/>
<line x1="466.39" y1="1315.60" x2="466.39" y2="1320.20" stroke="#333" stroke-width="1.7" stroke-linecap="butt"/>
<line x1="475.42" y1="1315.60" x2="475.42" y2="1320.20" stroke="#333" stroke-width="1.7" stroke-linecap="butt"/>
<line x1="482.43" y1="1315.60" x2="482.43" y2="1320.20" stroke="#333" stroke-width="1.7" stroke-linecap="butt"/>
<line x1="488.16" y1="1315.60" x2="488.16" y2="1320.20" stroke="#333" stroke-width="1.7" stroke-linecap="butt"/>
<line x1="493.00" y1="1315.60" x2="493.00" y2="1320.20" stroke="#333" stroke-width="1.7" stroke-linecap="butt"/>
<line x1="497.19" y1="1315.60" x2="497.19" y2="1320.20" stroke="#333" stroke-width="1.7" stroke-linecap="butt"/>
<line x1="500.89" y1="1315.60" x2="500.89" y2="1320.20" stroke="#333" stroke-width="1.7" stroke-linecap="butt"/>
<line x1="503.20" y1="1315.60" x2="503.20" y2="1323.60" stroke="#111" stroke-width="2.6" stroke-linecap="butt"/>
<text transform="translate(159.49,1361.30) scale(0.9926,1.0000)" font-family='"DejaVu Sans", sans-serif' font-weight="normal" stroke="#222" stroke-width="0.703" stroke-linejoin="round" font-size="24.5" fill="#222">10</text>
<text transform="translate(189.84,1343.60) scale(0.9616,1.0000)" font-family='"DejaVu Sans", sans-serif' font-weight="normal" stroke="#222" stroke-width="0.714" stroke-linejoin="round" font-size="24.5" fill="#222">0</text>
<text transform="translate(214.01,1361.30) scale(0.9926,1.0000)" font-family='"DejaVu Sans", sans-serif' font-weight="normal" stroke="#222" stroke-width="0.703" stroke-linejoin="round" font-size="24.5" fill="#222">10</text>
<text transform="translate(245.03,1343.60) scale(0.9116,1.0000)" font-family='"DejaVu Sans", sans-serif' font-weight="normal" stroke="#222" stroke-width="0.733" stroke-linejoin="round" font-size="24.5" fill="#222">1</text>
<text transform="translate(284.23,1361.30) scale(0.9926,1.0000)" font-family='"DejaVu Sans", sans-serif' font-weight="normal" stroke="#222" stroke-width="0.703" stroke-linejoin="round" font-size="24.5" fill="#222">10</text>
<text transform="translate(314.31,1343.60) scale(1.0462,1.0000)" font-family='"DejaVu Sans", sans-serif' font-weight="normal" stroke="#222" stroke-width="0.684" stroke-linejoin="round" font-size="24.5" fill="#222">2</text>
<text transform="translate(354.45,1361.30) scale(0.9926,1.0000)" font-family='"DejaVu Sans", sans-serif' font-weight="normal" stroke="#222" stroke-width="0.703" stroke-linejoin="round" font-size="24.5" fill="#222">10</text>
<text transform="translate(384.46,1343.60) scale(1.0128,1.0000)" font-family='"DejaVu Sans", sans-serif' font-weight="normal" stroke="#222" stroke-width="0.696" stroke-linejoin="round" font-size="24.5" fill="#222">3</text>
<text transform="translate(424.47,1361.30) scale(0.9926,1.0000)" font-family='"DejaVu Sans", sans-serif' font-weight="normal" stroke="#222" stroke-width="0.703" stroke-linejoin="round" font-size="24.5" fill="#222">10</text>
<text transform="translate(455.36,1343.60) scale(0.9067,1.0000)" font-family='"DejaVu Sans", sans-serif' font-weight="normal" stroke="#222" stroke-width="0.735" stroke-linejoin="round" font-size="24.5" fill="#222">4</text>
<text transform="translate(459.09,1361.30) scale(0.9926,1.0000)" font-family='"DejaVu Sans", sans-serif' font-weight="normal" stroke="#222" stroke-width="0.703" stroke-linejoin="round" font-size="24.5" fill="#222">10</text>
<text transform="translate(489.08,1343.60) scale(1.0237,1.0000)" font-family='"DejaVu Sans", sans-serif' font-weight="normal" stroke="#222" stroke-width="0.692" stroke-linejoin="round" font-size="24.5" fill="#222">5</text>
<line x1="505.50" y1="1315.60" x2="505.50" y2="1323.60" stroke="#111" stroke-width="2.6" stroke-linecap="butt"/>
<line x1="524.93" y1="1315.60" x2="524.93" y2="1320.20" stroke="#333" stroke-width="1.7" stroke-linecap="butt"/>
<line x1="536.88" y1="1315.60" x2="536.88" y2="1320.20" stroke="#333" stroke-width="1.7" stroke-linecap="butt"/>
<line x1="545.36" y1="1315.60" x2="545.36" y2="1320.20" stroke="#333" stroke-width="1.7" stroke-linecap="butt"/>
<line x1="551.93" y1="1315.60" x2="551.93" y2="1320.20" stroke="#333" stroke-width="1.7" stroke-linecap="butt"/>
<line x1="557.31" y1="1315.60" x2="557.31" y2="1320.20" stroke="#333" stroke-width="1.7" stroke-linecap="butt"/>
<line x1="561.85" y1="1315.60" x2="561.85" y2="1320.20" stroke="#333" stroke-width="1.7" stroke-linecap="butt"/>
<line x1="565.78" y1="1315.60" x2="565.78" y2="1320.20" stroke="#333" stroke-width="1.7" stroke-linecap="butt"/>
<line x1="569.26" y1="1315.60" x2="569.26" y2="1320.20" stroke="#333" stroke-width="1.7" stroke-linecap="butt"/>
<line x1="572.36" y1="1315.60" x2="572.36" y2="1323.60" stroke="#111" stroke-width="2.6" stroke-linecap="butt"/>
<line x1="593.48" y1="1315.60" x2="593.48" y2="1320.20" stroke="#333" stroke-width="1.7" stroke-linecap="butt"/>
<line x1="605.84" y1="1315.60" x2="605.84" y2="1320.20" stroke="#333" stroke-width="1.7" stroke-linecap="butt"/>
<line x1="614.60" y1="1315.60" x2="614.60" y2="1320.20" stroke="#333" stroke-width="1.7" stroke-linecap="butt"/>
<line x1="621.40" y1="1315.60" x2="621.40" y2="1320.20" stroke="#333" stroke-width="1.7" stroke-linecap="butt"/>
<line x1="626.96" y1="1315.60" x2="626.96" y2="1320.20" stroke="#333" stroke-width="1.7" stroke-linecap="butt"/>
<line x1="631.65" y1="1315.60" x2="631.65" y2="1320.20" stroke="#333" stroke-width="1.7" stroke-linecap="butt"/>
<line x1="635.72" y1="1315.60" x2="635.72" y2="1320.20" stroke="#333" stroke-width="1.7" stroke-linecap="butt"/>
<line x1="639.31" y1="1315.60" x2="639.31" y2="1320.20" stroke="#333" stroke-width="1.7" stroke-linecap="butt"/>
<line x1="642.52" y1="1315.60" x2="642.52" y2="1323.60" stroke="#111" stroke-width="2.6" stroke-linecap="butt"/>
<line x1="663.64" y1="1315.60" x2="663.64" y2="1320.20" stroke="#333" stroke-width="1.7" stroke-linecap="butt"/>
<line x1="676.00" y1="1315.60" x2="676.00" y2="1320.20" stroke="#333" stroke-width="1.7" stroke-linecap="butt"/>
<line x1="684.76" y1="1315.60" x2="684.76" y2="1320.20" stroke="#333" stroke-width="1.7" stroke-linecap="butt"/>
<line x1="691.56" y1="1315.60" x2="691.56" y2="1320.20" stroke="#333" stroke-width="1.7" stroke-linecap="butt"/>
<line x1="697.12" y1="1315.60" x2="697.12" y2="1320.20" stroke="#333" stroke-width="1.7" stroke-linecap="butt"/>
<line x1="701.81" y1="1315.60" x2="701.81" y2="1320.20" stroke="#333" stroke-width="1.7" stroke-linecap="butt"/>
<line x1="705.88" y1="1315.60" x2="705.88" y2="1320.20" stroke="#333" stroke-width="1.7" stroke-linecap="butt"/>
<line x1="709.47" y1="1315.60" x2="709.47" y2="1320.20" stroke="#333" stroke-width="1.7" stroke-linecap="butt"/>
<line x1="712.68" y1="1315.60" x2="712.68" y2="1323.60" stroke="#111" stroke-width="2.6" stroke-linecap="butt"/>
<line x1="733.74" y1="1315.60" x2="733.74" y2="1320.20" stroke="#333" stroke-width="1.7" stroke-linecap="butt"/>
<line x1="746.06" y1="1315.60" x2="746.06" y2="1320.20" stroke="#333" stroke-width="1.7" stroke-linecap="butt"/>
<line x1="754.80" y1="1315.60" x2="754.80" y2="1320.20" stroke="#333" stroke-width="1.7" stroke-linecap="butt"/>
<line x1="761.58" y1="1315.60" x2="761.58" y2="1320.20" stroke="#333" stroke-width="1.7" stroke-linecap="butt"/>
<line x1="767.12" y1="1315.60" x2="767.12" y2="1320.20" stroke="#333" stroke-width="1.7" stroke-linecap="butt"/>
<line x1="771.80" y1="1315.60" x2="771.80" y2="1320.20" stroke="#333" stroke-width="1.7" stroke-linecap="butt"/>
<line x1="775.86" y1="1315.60" x2="775.86" y2="1320.20" stroke="#333" stroke-width="1.7" stroke-linecap="butt"/>
<line x1="779.44" y1="1315.60" x2="779.44" y2="1320.20" stroke="#333" stroke-width="1.7" stroke-linecap="butt"/>
<line x1="782.64" y1="1315.60" x2="782.64" y2="1323.60" stroke="#111" stroke-width="2.6" stroke-linecap="butt"/>
<line x1="804.39" y1="1315.60" x2="804.39" y2="1320.20" stroke="#333" stroke-width="1.7" stroke-linecap="butt"/>
<line x1="817.12" y1="1315.60" x2="817.12" y2="1320.20" stroke="#333" stroke-width="1.7" stroke-linecap="butt"/>
<line x1="826.15" y1="1315.60" x2="826.15" y2="1320.20" stroke="#333" stroke-width="1.7" stroke-linecap="butt"/>
<line x1="833.15" y1="1315.60" x2="833.15" y2="1320.20" stroke="#333" stroke-width="1.7" stroke-linecap="butt"/>
<line x1="838.87" y1="1315.60" x2="838.87" y2="1320.20" stroke="#333" stroke-width="1.7" stroke-linecap="butt"/>
<line x1="843.71" y1="1315.60" x2="843.71" y2="1320.20" stroke="#333" stroke-width="1.7" stroke-linecap="butt"/>
<line x1="847.90" y1="1315.60" x2="847.90" y2="1320.20" stroke="#333" stroke-width="1.7" stroke-linecap="butt"/>
<line x1="851.59" y1="1315.60" x2="851.59" y2="1320.20" stroke="#333" stroke-width="1.7" stroke-linecap="butt"/>
<line x1="853.90" y1="1315.60" x2="853.90" y2="1323.60" stroke="#111" stroke-width="2.6" stroke-linecap="butt"/>
<text transform="translate(510.49,1361.30) scale(0.9926,1.0000)" font-family='"DejaVu Sans", sans-serif' font-weight="normal" stroke="#222" stroke-width="0.703" stroke-linejoin="round" font-size="24.5" fill="#222">10</text>
<text transform="translate(540.84,1343.60) scale(0.9616,1.0000)" font-family='"DejaVu Sans", sans-serif' font-weight="normal" stroke="#222" stroke-width="0.714" stroke-linejoin="round" font-size="24.5" fill="#222">0</text>
<text transform="translate(564.96,1361.30) scale(0.9926,1.0000)" font-family='"DejaVu Sans", sans-serif' font-weight="normal" stroke="#222" stroke-width="0.703" stroke-linejoin="round" font-size="24.5" fill="#222">10</text>
<text transform="translate(595.97,1343.60) scale(0.9116,1.0000)" font-family='"DejaVu Sans", sans-serif' font-weight="normal" stroke="#222" stroke-width="0.733" stroke-linejoin="round" font-size="24.5" fill="#222">1</text>
<text transform="translate(635.12,1361.30) scale(0.9926,1.0000)" font-family='"DejaVu Sans", sans-serif' font-weight="normal" stroke="#222" stroke-width="0.703" stroke-linejoin="round" font-size="24.5" fill="#222">10</text>
<text transform="translate(665.19,1343.60) scale(1.0462,1.0000)" font-family='"DejaVu Sans", sans-serif' font-weight="normal" stroke="#222" stroke-width="0.684" stroke-linejoin="round" font-size="24.5" fill="#222">2</text>
<text transform="translate(705.28,1361.30) scale(0.9926,1.0000)" font-family='"DejaVu Sans", sans-serif' font-weight="normal" stroke="#222" stroke-width="0.703" stroke-linejoin="round" font-size="24.5" fill="#222">10</text>
<text transform="translate(735.28,1343.60) scale(1.0128,1.0000)" font-family='"DejaVu Sans", sans-serif' font-weight="normal" stroke="#222" stroke-width="0.696" stroke-linejoin="round" font-size="24.5" fill="#222">3</text>
<text transform="translate(775.24,1361.30) scale(0.9926,1.0000)" font-family='"DejaVu Sans", sans-serif' font-weight="normal" stroke="#222" stroke-width="0.703" stroke-linejoin="round" font-size="24.5" fill="#222">10</text>
<text transform="translate(806.12,1343.60) scale(0.9067,1.0000)" font-family='"DejaVu Sans", sans-serif' font-weight="normal" stroke="#222" stroke-width="0.735" stroke-linejoin="round" font-size="24.5" fill="#222">4</text>
<text transform="translate(809.79,1361.30) scale(0.9926,1.0000)" font-family='"DejaVu Sans", sans-serif' font-weight="normal" stroke="#222" stroke-width="0.703" stroke-linejoin="round" font-size="24.5" fill="#222">10</text>
<text transform="translate(839.78,1343.60) scale(1.0237,1.0000)" font-family='"DejaVu Sans", sans-serif' font-weight="normal" stroke="#222" stroke-width="0.692" stroke-linejoin="round" font-size="24.5" fill="#222">5</text>
<line x1="856.20" y1="1315.60" x2="856.20" y2="1323.60" stroke="#111" stroke-width="2.6" stroke-linecap="butt"/>
<line x1="875.63" y1="1315.60" x2="875.63" y2="1320.20" stroke="#333" stroke-width="1.7" stroke-linecap="butt"/>
<line x1="887.59" y1="1315.60" x2="887.59" y2="1320.20" stroke="#333" stroke-width="1.7" stroke-linecap="butt"/>
<line x1="896.07" y1="1315.60" x2="896.07" y2="1320.20" stroke="#333" stroke-width="1.7" stroke-linecap="butt"/>
<line x1="902.65" y1="1315.60" x2="902.65" y2="1320.20" stroke="#333" stroke-width="1.7" stroke-linecap="butt"/>
<line x1="908.02" y1="1315.60" x2="908.02" y2="1320.20" stroke="#333" stroke-width="1.7" stroke-linecap="butt"/>
<line x1="912.57" y1="1315.60" x2="912.57" y2="1320.20" stroke="#333" stroke-width="1.7" stroke-linecap="butt"/>
<line x1="916.50" y1="1315.60" x2="916.50" y2="1320.20" stroke="#333" stroke-width="1.7" stroke-linecap="butt"/>
<line x1="919.97" y1="1315.60" x2="919.97" y2="1320.20" stroke="#333" stroke-width="1.7" stroke-linecap="butt"/>
<line x1="923.08" y1="1315.60" x2="923.08" y2="1323.60" stroke="#111" stroke-width="2.6" stroke-linecap="butt"/>
<line x1="944.21" y1="1315.60" x2="944.21" y2="1320.20" stroke="#333" stroke-width="1.7" stroke-linecap="butt"/>
<line x1="956.57" y1="1315.60" x2="956.57" y2="1320.20" stroke="#333" stroke-width="1.7" stroke-linecap="butt"/>
<line x1="965.33" y1="1315.60" x2="965.33" y2="1320.20" stroke="#333" stroke-width="1.7" stroke-linecap="butt"/>
<line x1="972.13" y1="1315.60" x2="972.13" y2="1320.20" stroke="#333" stroke-width="1.7" stroke-linecap="butt"/>
<line x1="977.69" y1="1315.60" x2="977.69" y2="1320.20" stroke="#333" stroke-width="1.7" stroke-linecap="butt"/>
<line x1="982.39" y1="1315.60" x2="982.39" y2="1320.20" stroke="#333" stroke-width="1.7" stroke-linecap="butt"/>
<line x1="986.46" y1="1315.60" x2="986.46" y2="1320.20" stroke="#333" stroke-width="1.7" stroke-linecap="butt"/>
<line x1="990.05" y1="1315.60" x2="990.05" y2="1320.20" stroke="#333" stroke-width="1.7" stroke-linecap="butt"/>
<line x1="993.26" y1="1315.60" x2="993.26" y2="1323.60" stroke="#111" stroke-width="2.6" stroke-linecap="butt"/>
<line x1="1014.39" y1="1315.60" x2="1014.39" y2="1320.20" stroke="#333" stroke-width="1.7" stroke-linecap="butt"/>
<line x1="1026.75" y1="1315.60" x2="1026.75" y2="1320.20" stroke="#333" stroke-width="1.7" stroke-linecap="butt"/>
<line x1="1035.51" y1="1315.60" x2="1035.51" y2="1320.20" stroke="#333" stroke-width="1.7" stroke-linecap="butt"/>
<line x1="1042.31" y1="1315.60" x2="1042.31" y2="1320.20" stroke="#333" stroke-width="1.7" stroke-linecap="butt"/>
<line x1="1047.87" y1="1315.60" x2="1047.87" y2="1320.20" stroke="#333" stroke-width="1.7" stroke-linecap="butt"/>
<line x1="1052.57" y1="1315.60" x2="1052.57" y2="1320.20" stroke="#333" stroke-width="1.7" stroke-linecap="butt"/>
<line x1="1056.64" y1="1315.60" x2="1056.64" y2="1320.20" stroke="#333" stroke-width="1.7" stroke-linecap="butt"/>
<line x1="1060.23" y1="1315.60" x2="1060.23" y2="1320.20" stroke="#333" stroke-width="1.7" stroke-linecap="butt"/>
<line x1="1063.44" y1="1315.60" x2="1063.44" y2="1323.60" stroke="#111" stroke-width="2.6" stroke-linecap="butt"/>
<line x1="1084.51" y1="1315.60" x2="1084.51" y2="1320.20" stroke="#333" stroke-width="1.7" stroke-linecap="butt"/>
<line x1="1096.83" y1="1315.60" x2="1096.83" y2="1320.20" stroke="#333" stroke-width="1.7" stroke-linecap="butt"/>
<line x1="1105.57" y1="1315.60" x2="1105.57" y2="1320.20" stroke="#333" stroke-width="1.7" stroke-linecap="butt"/>
<line x1="1112.35" y1="1315.60" x2="1112.35" y2="1320.20" stroke="#333" stroke-width="1.7" stroke-linecap="butt"/>
<line x1="1117.90" y1="1315.60" x2="1117.90" y2="1320.20" stroke="#333" stroke-width="1.7" stroke-linecap="butt"/>
<line x1="1122.58" y1="1315.60" x2="1122.58" y2="1320.20" stroke="#333" stroke-width="1.7" stroke-linecap="butt"/>
<line x1="1126.64" y1="1315.60" x2="1126.64" y2="1320.20" stroke="#333" stroke-width="1.7" stroke-linecap="butt"/>
<line x1="1130.22" y1="1315.60" x2="1130.22" y2="1320.20" stroke="#333" stroke-width="1.7" stroke-linecap="butt"/>
<line x1="1133.42" y1="1315.60" x2="1133.42" y2="1323.60" stroke="#111" stroke-width="2.6" stroke-linecap="butt"/>
<line x1="1155.18" y1="1315.60" x2="1155.18" y2="1320.20" stroke="#333" stroke-width="1.7" stroke-linecap="butt"/>
<line x1="1167.91" y1="1315.60" x2="1167.91" y2="1320.20" stroke="#333" stroke-width="1.7" stroke-linecap="butt"/>
<line x1="1176.94" y1="1315.60" x2="1176.94" y2="1320.20" stroke="#333" stroke-width="1.7" stroke-linecap="butt"/>
<line x1="1183.94" y1="1315.60" x2="1183.94" y2="1320.20" stroke="#333" stroke-width="1.7" stroke-linecap="butt"/>
<line x1="1189.66" y1="1315.60" x2="1189.66" y2="1320.20" stroke="#333" stroke-width="1.7" stroke-linecap="butt"/>
<line x1="1194.50" y1="1315.60" x2="1194.50" y2="1320.20" stroke="#333" stroke-width="1.7" stroke-linecap="butt"/>
<line x1="1198.70" y1="1315.60" x2="1198.70" y2="1320.20" stroke="#333" stroke-width="1.7" stroke-linecap="butt"/>
<line x1="1202.39" y1="1315.60" x2="1202.39" y2="1320.20" stroke="#333" stroke-width="1.7" stroke-linecap="butt"/>
<line x1="1204.70" y1="1315.60" x2="1204.70" y2="1323.60" stroke="#111" stroke-width="2.6" stroke-linecap="butt"/>
<text transform="translate(861.19,1361.30) scale(0.9926,1.0000)" font-family='"DejaVu Sans", sans-serif' font-weight="normal" stroke="#222" stroke-width="0.703" stroke-linejoin="round" font-size="24.5" fill="#222">10</text>
<text transform="translate(891.54,1343.60) scale(0.9616,1.0000)" font-family='"DejaVu Sans", sans-serif' font-weight="normal" stroke="#222" stroke-width="0.714" stroke-linejoin="round" font-size="24.5" fill="#222">0</text>
<text transform="translate(915.68,1361.30) scale(0.9926,1.0000)" font-family='"DejaVu Sans", sans-serif' font-weight="normal" stroke="#222" stroke-width="0.703" stroke-linejoin="round" font-size="24.5" fill="#222">10</text>
<text transform="translate(946.69,1343.60) scale(0.9116,1.0000)" font-family='"DejaVu Sans", sans-serif' font-weight="normal" stroke="#222" stroke-width="0.733" stroke-linejoin="round" font-size="24.5" fill="#222">1</text>
<text transform="translate(985.86,1361.30) scale(0.9926,1.0000)" font-family='"DejaVu Sans", sans-serif' font-weight="normal" stroke="#222" stroke-width="0.703" stroke-linejoin="round" font-size="24.5" fill="#222">10</text>
<text transform="translate(1015.93,1343.60) scale(1.0462,1.0000)" font-family='"DejaVu Sans", sans-serif' font-weight="normal" stroke="#222" stroke-width="0.684" stroke-linejoin="round" font-size="24.5" fill="#222">2</text>
<text transform="translate(1056.04,1361.30) scale(0.9926,1.0000)" font-family='"DejaVu Sans", sans-serif' font-weight="normal" stroke="#222" stroke-width="0.703" stroke-linejoin="round" font-size="24.5" fill="#222">10</text>
<text transform="translate(1086.04,1343.60) scale(1.0128,1.0000)" font-family='"DejaVu Sans", sans-serif' font-weight="normal" stroke="#222" stroke-width="0.696" stroke-linejoin="round" font-size="24.5" fill="#222">3</text>
<text transform="translate(1126.02,1361.30) scale(0.9926,1.0000)" font-family='"DejaVu Sans", sans-serif' font-weight="normal" stroke="#222" stroke-width="0.703" stroke-linejoin="round" font-size="24.5" fill="#222">10</text>
<text transform="translate(1156.90,1343.60) scale(0.9067,1.0000)" font-family='"DejaVu Sans", sans-serif' font-weight="normal" stroke="#222" stroke-width="0.735" stroke-linejoin="round" font-size="24.5" fill="#222">4</text>
<text transform="translate(1160.59,1361.30) scale(0.9926,1.0000)" font-family='"DejaVu Sans", sans-serif' font-weight="normal" stroke="#222" stroke-width="0.703" stroke-linejoin="round" font-size="24.5" fill="#222">10</text>
<text transform="translate(1190.58,1343.60) scale(1.0237,1.0000)" font-family='"DejaVu Sans", sans-serif' font-weight="normal" stroke="#222" stroke-width="0.692" stroke-linejoin="round" font-size="24.5" fill="#222">5</text>
<text transform="translate(157.40,1011.79) scale(1.2000,0.9895)" font-family='"DejaVu Sans", sans-serif' font-weight="normal" stroke="#1010e0" stroke-width="0.459" stroke-linejoin="round" font-size="32" fill="#1010e0">(–)</text>
<text transform="translate(407.13,1011.79) scale(1.0443,0.9895)" font-family='"DejaVu Sans", sans-serif' font-weight="normal" stroke="#1010e0" stroke-width="0.492" stroke-linejoin="round" font-size="32" fill="#1010e0">(+)</text>
<text transform="translate(159.29,1053.51) scale(1.0060,0.9720)" font-family='"DejaVu Sans Condensed", "DejaVu Sans", sans-serif' font-weight="bold" stroke="#fff" stroke-width="0.405" stroke-linejoin="round" font-size="33" fill="#1010e0">95.0</text>
<text transform="translate(385.60,1053.51) scale(1.0219,0.9720)" font-family='"DejaVu Sans Condensed", "DejaVu Sans", sans-serif' font-weight="bold" stroke="#fff" stroke-width="0.401" stroke-linejoin="round" font-size="33" fill="#1010e0">5.02</text>
<text transform="translate(508.40,1011.79) scale(1.2000,0.9895)" font-family='"DejaVu Sans", sans-serif' font-weight="normal" stroke="#1010e0" stroke-width="0.459" stroke-linejoin="round" font-size="32" fill="#1010e0">(–)</text>
<text transform="translate(757.83,1011.79) scale(1.0443,0.9895)" font-family='"DejaVu Sans", sans-serif' font-weight="normal" stroke="#1010e0" stroke-width="0.492" stroke-linejoin="round" font-size="32" fill="#1010e0">(+)</text>
<text transform="translate(509.51,1053.51) scale(1.0187,0.9720)" font-family='"DejaVu Sans Condensed", "DejaVu Sans", sans-serif' font-weight="bold" stroke="#fff" stroke-width="0.402" stroke-linejoin="round" font-size="33" fill="#1010e0">55.6</text>
<text transform="translate(737.24,1054.00) scale(0.9912,1.0073)" font-family='"DejaVu Sans Condensed", "DejaVu Sans", sans-serif' font-weight="bold" stroke="#fff" stroke-width="0.400" stroke-linejoin="round" font-size="33" fill="#1010e0">44.4</text>
<text transform="translate(859.10,1011.79) scale(1.2000,0.9895)" font-family='"DejaVu Sans", sans-serif' font-weight="normal" stroke="#1010e0" stroke-width="0.459" stroke-linejoin="round" font-size="32" fill="#1010e0">(–)</text>
<text transform="translate(1108.63,1011.79) scale(1.0443,0.9895)" font-family='"DejaVu Sans", sans-serif' font-weight="normal" stroke="#1010e0" stroke-width="0.492" stroke-linejoin="round" font-size="32" fill="#1010e0">(+)</text>
<text transform="translate(860.45,1053.51) scale(1.0261,0.9720)" font-family='"DejaVu Sans Condensed", "DejaVu Sans", sans-serif' font-weight="bold" stroke="#fff" stroke-width="0.401" stroke-linejoin="round" font-size="33" fill="#1010e0">32.3</text>
<text transform="translate(1087.50,1053.51) scale(1.0127,0.9720)" font-family='"DejaVu Sans Condensed", "DejaVu Sans", sans-serif' font-weight="bold" stroke="#fff" stroke-width="0.403" stroke-linejoin="round" font-size="33" fill="#1010e0">67.7</text>
<text transform="translate(26.42,96.10) scale(0.9612,1.0081)" font-family='"Liberation Sans", sans-serif' font-weight="bold" font-size="72" fill="#000">A</text>
<text transform="translate(316.94,91.80) scale(1.1209,1.0000)" font-family='"Liberation Sans", sans-serif' font-weight="bold" font-size="45" fill="#000">0</text>
<text transform="translate(647.65,91.80) scale(1.0601,1.0000)" font-family='"Liberation Sans", sans-serif' font-weight="bold" font-size="45" fill="#000">10</text>
<text transform="translate(935.75,91.80) scale(1.0455,1.0000)" font-family='"Liberation Sans", sans-serif' font-weight="bold" font-size="45" fill="#000">30</text>
<text transform="translate(998.83,91.80) scale(1.0347,1.0000)" font-family='"Liberation Sans", sans-serif' font-weight="bold" font-style="italic" font-size="46" fill="#000">μ</text>
<text transform="translate(1026.11,91.80) scale(1.0076,1.0000)" font-family='"Liberation Sans", sans-serif' font-weight="bold" font-size="46" fill="#000">g</text>
<text transform="translate(1053.33,98.07) skewX(-11.57) scale(1,1.2876)" font-family='"Liberation Sans", sans-serif' font-weight="bold" font-size="46" fill="#000">/</text>
<text transform="translate(1074.46,91.80) scale(0.9800,1.0000)" font-family='"Liberation Sans", sans-serif' font-weight="bold" font-size="46" fill="#000">m</text>
<text transform="translate(1116.01,91.80) scale(1.1280,1.0307)" font-family='"Liberation Sans", sans-serif' font-weight="bold" font-size="46" fill="#000">l</text>
<text transform="translate(72.00,770.88) rotate(-90) scale(0.8809,1.0000)" font-family='"Liberation Sans", sans-serif' font-weight="bold" font-size="54" fill="#000">Counts</text>
<text transform="translate(445.87,1424.70) scale(0.9772,1.0000)" font-family='"Liberation Sans", sans-serif' font-weight="bold" font-size="47.5" fill="#000">Caspase</text>
<text transform="translate(651.10,1424.70) scale(1.0624,1.0000)" font-family='"Liberation Sans", sans-serif' font-weight="bold" font-size="47.5" fill="#000">3</text>
<text transform="translate(691.16,1424.70) scale(1.0597,1.0000)" font-family='"Liberation Sans", sans-serif' font-weight="bold" font-size="47.5" fill="#000">intensity</text>
<line x1="1513.45" y1="451.20" x2="1513.45" y2="444.60" stroke="#000" stroke-width="2.6" stroke-linecap="butt"/>
<line x1="1508.65" y1="445.60" x2="1518.25" y2="445.60" stroke="#000" stroke-width="2.6" stroke-linecap="butt"/>
<rect x="1479.15" y="451.20" width="68.60" height="10.10" fill="#cecece" stroke="#000" stroke-width="2.9"/>
<line x1="1513.45" y1="461.30" x2="1513.45" y2="467.80" stroke="#000" stroke-width="2.8" stroke-linecap="butt"/>
<line x1="1627.60" y1="333.70" x2="1627.60" y2="296.10" stroke="#000" stroke-width="2.6" stroke-linecap="butt"/>
<line x1="1622.80" y1="297.10" x2="1632.40" y2="297.10" stroke="#000" stroke-width="2.6" stroke-linecap="butt"/>
<rect x="1593.25" y="333.70" width="68.70" height="127.60" fill="#cecece" stroke="#000" stroke-width="2.9"/>
<line x1="1627.60" y1="461.30" x2="1627.60" y2="467.80" stroke="#000" stroke-width="2.8" stroke-linecap="butt"/>
<line x1="1742.75" y1="236.70" x2="1742.75" y2="220.00" stroke="#000" stroke-width="2.6" stroke-linecap="butt"/>
<line x1="1737.95" y1="221.00" x2="1747.55" y2="221.00" stroke="#000" stroke-width="2.6" stroke-linecap="butt"/>
<rect x="1708.45" y="236.70" width="68.60" height="224.60" fill="#cecece" stroke="#000" stroke-width="2.9"/>
<line x1="1742.75" y1="461.30" x2="1742.75" y2="467.80" stroke="#000" stroke-width="2.8" stroke-linecap="butt"/>
<rect x="1398.60" y="131.90" width="458.50" height="329.40" fill="none" stroke="#000" stroke-width="3.0"/>
<line x1="1392.60" y1="461.30" x2="1398.60" y2="461.30" stroke="#000" stroke-width="2.4" stroke-linecap="butt"/>
<text transform="translate(1368.97,469.20) scale(1.0667,1.0000)" font-family='"Liberation Sans", sans-serif' font-weight="bold" font-size="22" fill="#000">0</text>
<line x1="1392.60" y1="406.00" x2="1398.60" y2="406.00" stroke="#000" stroke-width="2.4" stroke-linecap="butt"/>
<text transform="translate(1356.93,413.90) scale(1.0230,1.0000)" font-family='"Liberation Sans", sans-serif' font-weight="bold" font-size="22" fill="#000">20</text>
<line x1="1392.60" y1="350.70" x2="1398.60" y2="350.70" stroke="#000" stroke-width="2.4" stroke-linecap="butt"/>
<text transform="translate(1357.32,358.60) scale(1.0065,1.0000)" font-family='"Liberation Sans", sans-serif' font-weight="bold" font-size="22" fill="#000">40</text>
<line x1="1392.60" y1="295.40" x2="1398.60" y2="295.40" stroke="#000" stroke-width="2.4" stroke-linecap="butt"/>
<text transform="translate(1356.93,303.30) scale(1.0230,1.0000)" font-family='"Liberation Sans", sans-serif' font-weight="bold" font-size="22" fill="#000">60</text>
<line x1="1392.60" y1="240.10" x2="1398.60" y2="240.10" stroke="#000" stroke-width="2.4" stroke-linecap="butt"/>
<text transform="translate(1356.93,248.00) scale(1.0230,1.0000)" font-family='"Liberation Sans", sans-serif' font-weight="bold" font-size="22" fill="#000">80</text>
<line x1="1392.60" y1="184.80" x2="1398.60" y2="184.80" stroke="#000" stroke-width="2.4" stroke-linecap="butt"/>
<text transform="translate(1344.29,192.70) scale(1.0261,1.0000)" font-family='"Liberation Sans", sans-serif' font-weight="bold" font-size="22" fill="#000">100</text>
<text transform="translate(1507.10,499.60) scale(1.0800,1.0000)" font-family='"Liberation Sans", sans-serif' font-weight="bold" font-size="21" fill="#000">0</text>
<text transform="translate(1614.97,499.60) scale(1.0635,1.0000)" font-family='"Liberation Sans", sans-serif' font-weight="bold" font-size="21" fill="#000">10</text>
<text transform="translate(1730.94,499.60) scale(1.0273,1.0000)" font-family='"Liberation Sans", sans-serif' font-weight="bold" font-size="21" fill="#000">30</text>
<text transform="translate(1502.10,432.52) scale(0.9351,1.0156)" font-family='"Liberation Sans", sans-serif' font-weight="bold" font-size="38" fill="#000">c</text>
<text transform="translate(1616.73,286.09) scale(1.0667,1.1049)" font-family='"Liberation Sans", sans-serif' font-weight="bold" font-size="38" fill="#000">b</text>
<text transform="translate(1731.11,207.22) scale(0.9728,1.0156)" font-family='"Liberation Sans", sans-serif' font-weight="bold" font-size="38" fill="#000">a</text>
<text transform="translate(1325.40,425.05) rotate(-90) scale(1.0026,1.0000)" font-family='"Liberation Sans", sans-serif' font-weight="bold" font-size="31" fill="#000">Caspase 3 (+) (%)</text>
<text transform="translate(1265.80,374.08) rotate(-90) scale(0.9753,1.0000)" font-family='"Liberation Sans", sans-serif' font-weight="bold" font-size="40.5" fill="#000">Ca9-22</text>
<line x1="1514.15" y1="872.90" x2="1514.15" y2="866.00" stroke="#000" stroke-width="2.6" stroke-linecap="butt"/>
<line x1="1509.35" y1="867.00" x2="1518.95" y2="867.00" stroke="#000" stroke-width="2.6" stroke-linecap="butt"/>
<rect x="1479.85" y="872.90" width="68.60" height="12.00" fill="#cecece" stroke="#000" stroke-width="2.9"/>
<line x1="1514.15" y1="884.90" x2="1514.15" y2="891.40" stroke="#000" stroke-width="2.8" stroke-linecap="butt"/>
<line x1="1628.30" y1="655.30" x2="1628.30" y2="637.10" stroke="#000" stroke-width="2.6" stroke-linecap="butt"/>
<line x1="1623.50" y1="638.10" x2="1633.10" y2="638.10" stroke="#000" stroke-width="2.6" stroke-linecap="butt"/>
<rect x="1593.95" y="655.30" width="68.70" height="229.60" fill="#cecece" stroke="#000" stroke-width="2.9"/>
<line x1="1628.30" y1="884.90" x2="1628.30" y2="891.40" stroke="#000" stroke-width="2.8" stroke-linecap="butt"/>
<line x1="1743.45" y1="619.40" x2="1743.45" y2="611.60" stroke="#000" stroke-width="2.6" stroke-linecap="butt"/>
<line x1="1738.65" y1="612.60" x2="1748.25" y2="612.60" stroke="#000" stroke-width="2.6" stroke-linecap="butt"/>
<rect x="1709.15" y="619.40" width="68.60" height="265.50" fill="#cecece" stroke="#000" stroke-width="2.9"/>
<line x1="1743.45" y1="884.90" x2="1743.45" y2="891.40" stroke="#000" stroke-width="2.8" stroke-linecap="butt"/>
<rect x="1399.30" y="555.50" width="458.50" height="329.40" fill="none" stroke="#000" stroke-width="3.0"/>
<line x1="1393.30" y1="884.90" x2="1399.30" y2="884.90" stroke="#000" stroke-width="2.4" stroke-linecap="butt"/>
<text transform="translate(1369.67,892.80) scale(1.0667,1.0000)" font-family='"Liberation Sans", sans-serif' font-weight="bold" font-size="22" fill="#000">0</text>
<line x1="1393.30" y1="829.60" x2="1399.30" y2="829.60" stroke="#000" stroke-width="2.4" stroke-linecap="butt"/>
<text transform="translate(1357.63,837.50) scale(1.0230,1.0000)" font-family='"Liberation Sans", sans-serif' font-weight="bold" font-size="22" fill="#000">20</text>
<line x1="1393.30" y1="774.30" x2="1399.30" y2="774.30" stroke="#000" stroke-width="2.4" stroke-linecap="butt"/>
<text transform="translate(1358.02,782.20) scale(1.0065,1.0000)" font-family='"Liberation Sans", sans-serif' font-weight="bold" font-size="22" fill="#000">40</text>
<line x1="1393.30" y1="719.00" x2="1399.30" y2="719.00" stroke="#000" stroke-width="2.4" stroke-linecap="butt"/>
<text transform="translate(1357.63,726.90) scale(1.0230,1.0000)" font-family='"Liberation Sans", sans-serif' font-weight="bold" font-size="22" fill="#000">60</text>
<line x1="1393.30" y1="663.70" x2="1399.30" y2="663.70" stroke="#000" stroke-width="2.4" stroke-linecap="butt"/>
<text transform="translate(1357.63,671.60) scale(1.0230,1.0000)" font-family='"Liberation Sans", sans-serif' font-weight="bold" font-size="22" fill="#000">80</text>
<line x1="1393.30" y1="608.40" x2="1399.30" y2="608.40" stroke="#000" stroke-width="2.4" stroke-linecap="butt"/>
<text transform="translate(1344.99,616.30) scale(1.0261,1.0000)" font-family='"Liberation Sans", sans-serif' font-weight="bold" font-size="22" fill="#000">100</text>
<text transform="translate(1507.80,923.20) scale(1.0800,1.0000)" font-family='"Liberation Sans", sans-serif' font-weight="bold" font-size="21" fill="#000">0</text>
<text transform="translate(1615.67,923.20) scale(1.0635,1.0000)" font-family='"Liberation Sans", sans-serif' font-weight="bold" font-size="21" fill="#000">10</text>
<text transform="translate(1731.64,923.20) scale(1.0273,1.0000)" font-family='"Liberation Sans", sans-serif' font-weight="bold" font-size="21" fill="#000">30</text>
<text transform="translate(1505.79,851.70) scale(0.9405,1.0683)" font-family='"Liberation Sans", sans-serif' font-weight="bold" font-size="38" fill="#000">c</text>
<text transform="translate(1618.52,620.99) scale(1.0719,1.1049)" font-family='"Liberation Sans", sans-serif' font-weight="bold" font-size="38" fill="#000">b</text>
<text transform="translate(1733.01,595.01) scale(0.9679,1.0299)" font-family='"Liberation Sans", sans-serif' font-weight="bold" font-size="38" fill="#000">a</text>
<text transform="translate(1326.10,848.65) rotate(-90) scale(1.0026,1.0000)" font-family='"Liberation Sans", sans-serif' font-weight="bold" font-size="31" fill="#000">Caspase 3 (+) (%)</text>
<text transform="translate(1265.60,778.79) rotate(-90) scale(0.9197,1.0000)" font-family='"Liberation Sans", sans-serif' font-weight="bold" font-size="40.5" fill="#000">CAL 27</text>
<line x1="1515.45" y1="1295.30" x2="1515.45" y2="1289.90" stroke="#000" stroke-width="2.6" stroke-linecap="butt"/>
<line x1="1510.65" y1="1290.90" x2="1520.25" y2="1290.90" stroke="#000" stroke-width="2.6" stroke-linecap="butt"/>
<rect x="1481.15" y="1295.30" width="68.60" height="14.60" fill="#cecece" stroke="#000" stroke-width="2.9"/>
<line x1="1515.45" y1="1309.90" x2="1515.45" y2="1316.40" stroke="#000" stroke-width="2.8" stroke-linecap="butt"/>
<line x1="1629.60" y1="1184.60" x2="1629.60" y2="1156.50" stroke="#000" stroke-width="2.6" stroke-linecap="butt"/>
<line x1="1624.80" y1="1157.50" x2="1634.40" y2="1157.50" stroke="#000" stroke-width="2.6" stroke-linecap="butt"/>
<rect x="1595.25" y="1184.60" width="68.70" height="125.30" fill="#cecece" stroke="#000" stroke-width="2.9"/>
<line x1="1629.60" y1="1309.90" x2="1629.60" y2="1316.40" stroke="#000" stroke-width="2.8" stroke-linecap="butt"/>
<line x1="1744.75" y1="1119.10" x2="1744.75" y2="1095.80" stroke="#000" stroke-width="2.6" stroke-linecap="butt"/>
<line x1="1739.95" y1="1096.80" x2="1749.55" y2="1096.80" stroke="#000" stroke-width="2.6" stroke-linecap="butt"/>
<rect x="1710.45" y="1119.10" width="68.60" height="190.80" fill="#cecece" stroke="#000" stroke-width="2.9"/>
<line x1="1744.75" y1="1309.90" x2="1744.75" y2="1316.40" stroke="#000" stroke-width="2.8" stroke-linecap="butt"/>
<rect x="1400.60" y="980.50" width="458.50" height="329.40" fill="none" stroke="#000" stroke-width="3.0"/>
<line x1="1394.60" y1="1309.90" x2="1400.60" y2="1309.90" stroke="#000" stroke-width="2.4" stroke-linecap="butt"/>
<text transform="translate(1370.97,1317.80) scale(1.0667,1.0000)" font-family='"Liberation Sans", sans-serif' font-weight="bold" font-size="22" fill="#000">0</text>
<line x1="1394.60" y1="1254.60" x2="1400.60" y2="1254.60" stroke="#000" stroke-width="2.4" stroke-linecap="butt"/>
<text transform="translate(1358.93,1262.50) scale(1.0230,1.0000)" font-family='"Liberation Sans", sans-serif' font-weight="bold" font-size="22" fill="#000">20</text>
<line x1="1394.60" y1="1199.30" x2="1400.60" y2="1199.30" stroke="#000" stroke-width="2.4" stroke-linecap="butt"/>
<text transform="translate(1359.32,1207.20) scale(1.0065,1.0000)" font-family='"Liberation Sans", sans-serif' font-weight="bold" font-size="22" fill="#000">40</text>
<line x1="1394.60" y1="1144.00" x2="1400.60" y2="1144.00" stroke="#000" stroke-width="2.4" stroke-linecap="butt"/>
<text transform="translate(1358.93,1151.90) scale(1.0230,1.0000)" font-family='"Liberation Sans", sans-serif' font-weight="bold" font-size="22" fill="#000">60</text>
<line x1="1394.60" y1="1088.70" x2="1400.60" y2="1088.70" stroke="#000" stroke-width="2.4" stroke-linecap="butt"/>
<text transform="translate(1358.93,1096.60) scale(1.0230,1.0000)" font-family='"Liberation Sans", sans-serif' font-weight="bold" font-size="22" fill="#000">80</text>
<line x1="1394.60" y1="1033.40" x2="1400.60" y2="1033.40" stroke="#000" stroke-width="2.4" stroke-linecap="butt"/>
<text transform="translate(1346.29,1041.30) scale(1.0261,1.0000)" font-family='"Liberation Sans", sans-serif' font-weight="bold" font-size="22" fill="#000">100</text>
<text transform="translate(1509.10,1348.20) scale(1.0800,1.0000)" font-family='"Liberation Sans", sans-serif' font-weight="bold" font-size="21" fill="#000">0</text>
<text transform="translate(1616.97,1348.20) scale(1.0635,1.0000)" font-family='"Liberation Sans", sans-serif' font-weight="bold" font-size="21" fill="#000">10</text>
<text transform="translate(1732.94,1348.20) scale(1.0273,1.0000)" font-family='"Liberation Sans", sans-serif' font-weight="bold" font-size="21" fill="#000">30</text>
<text transform="translate(1505.89,1272.62) scale(0.9405,1.0156)" font-family='"Liberation Sans", sans-serif' font-weight="bold" font-size="38" fill="#000">c</text>
<text transform="translate(1618.81,1140.09) scale(1.0771,1.0834)" font-family='"Liberation Sans", sans-serif' font-weight="bold" font-size="38" fill="#000">b</text>
<text transform="translate(1734.38,1079.12) scale(0.9975,1.0156)" font-family='"Liberation Sans", sans-serif' font-weight="bold" font-size="38" fill="#000">a</text>
<text transform="translate(1327.40,1273.65) rotate(-90) scale(1.0026,1.0000)" font-family='"Liberation Sans", sans-serif' font-weight="bold" font-size="31" fill="#000">Caspase 3 (+) (%)</text>
<text transform="translate(1262.00,1168.78) rotate(-90) scale(0.8687,1.0000)" font-family='"Liberation Sans", sans-serif' font-weight="bold" font-size="40.5" fill="#000">S-G</text>
<text transform="translate(1535.37,1395.40) scale(1.0140,1.0000)" font-family='"Liberation Sans", sans-serif' font-weight="bold" font-size="31" fill="#000">MECI</text>
<text transform="translate(1621.91,1395.40) scale(0.9943,1.0000)" font-family='"Liberation Sans", sans-serif' font-weight="bold" font-size="31" fill="#000">(</text>
<text transform="translate(1632.81,1395.40) scale(1.0296,1.0000)" font-family='"Liberation Sans", sans-serif' font-weight="normal" stroke="#000" stroke-width="0.493" stroke-linejoin="round" font-size="31" fill="#000">μ</text>
<text transform="translate(1649.43,1395.40) scale(1.0124,1.0000)" font-family='"Liberation Sans", sans-serif' font-weight="bold" font-size="31" fill="#000">g/ml</text>
<text transform="translate(1715.10,1395.40) scale(0.9371,1.0000)" font-family='"Liberation Sans", sans-serif' font-weight="bold" font-size="31" fill="#000">)</text>
</g>
</svg>
</body></html>
